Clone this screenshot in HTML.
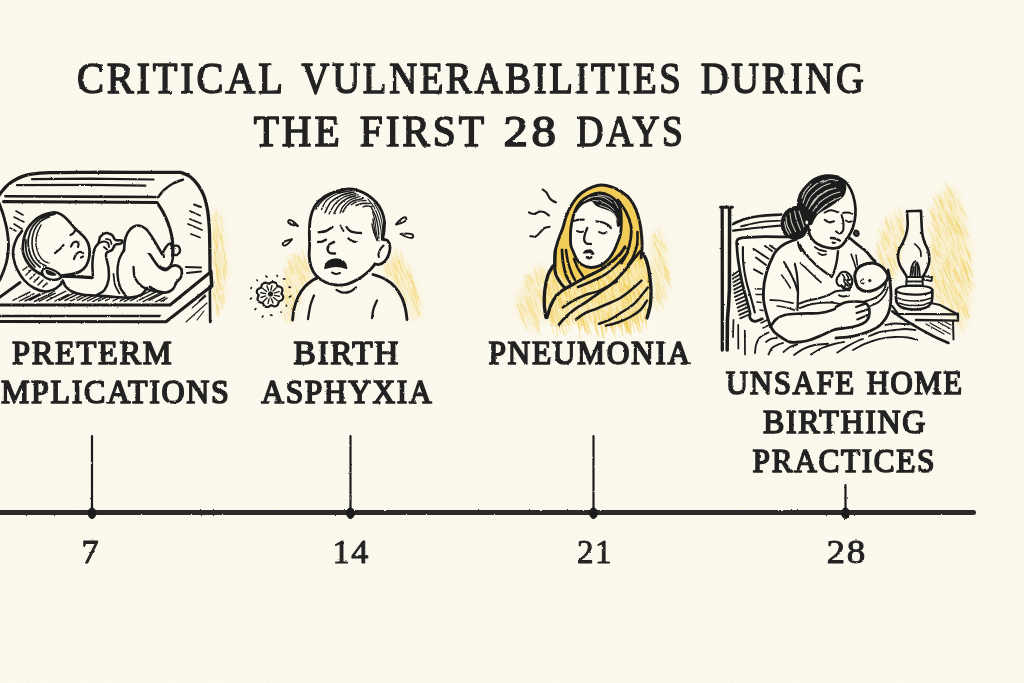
<!DOCTYPE html>
<html lang="en">
<head>
<meta charset="utf-8">
<title>Critical Vulnerabilities During the First 28 Days</title>
<style>
  html, body { margin: 0; padding: 0; background: #fcf9ee; }
  body { width: 1024px; height: 683px; overflow: hidden; position: relative; }
  svg { display: block; position: absolute; left: 0; top: 0; }
  text { font-family: "Liberation Serif", "DejaVu Serif", serif; fill: #232323; stroke: #232323; stroke-linejoin: round; }
  #title text { font-size: 43.6px; letter-spacing: 3px; stroke-width: 1.5px; }
  #labels text { font-size: 33.1px; letter-spacing: 1.7px; stroke-width: 1.65px; }
  #days text { font-size: 32.7px; letter-spacing: 1.5px; stroke-width: 0.9px; }
  .ink { fill: none; stroke: #1d1d1d; stroke-linecap: round; stroke-linejoin: round; }
  .blk { fill: #1d1d1d; stroke: #1d1d1d; }
</style>
</head>
<body>
<svg width="1024" height="683" viewBox="0 0 1024 683">
  <defs>
    <filter id="soft" x="-30%" y="-30%" width="160%" height="160%"><feGaussianBlur stdDeviation="3"/></filter>
    <filter id="rough" filterUnits="userSpaceOnUse" x="-10" y="0" width="1044" height="683"><feTurbulence type="fractalNoise" baseFrequency="0.32" numOctaves="2" seed="4" result="n"/><feDisplacementMap in="SourceGraphic" in2="n" scale="1.9" xChannelSelector="R" yChannelSelector="G"/></filter>
    <filter id="rought" filterUnits="userSpaceOnUse" x="-60" y="0" width="1144" height="683"><feTurbulence type="fractalNoise" baseFrequency="0.22" numOctaves="2" seed="11" result="n"/><feDisplacementMap in="SourceGraphic" in2="n" scale="2" xChannelSelector="R" yChannelSelector="G"/></filter>
    <filter id="grain" filterUnits="userSpaceOnUse" x="0" y="0" width="1024" height="683"><feTurbulence type="fractalNoise" baseFrequency="0.75" numOctaves="2" seed="8"/><feColorMatrix type="matrix" values="0 0 0 0 0.80  0 0 0 0 0.74  0 0 0 0 0.60  0 0 0 0.9 -0.32"/></filter>
    <linearGradient id="fadeDown" x1="0" y1="0" x2="0" y2="1"><stop offset="0" stop-color="#fcf9ee" stop-opacity="0"/><stop offset=".55" stop-color="#fcf9ee" stop-opacity=".45"/><stop offset=".85" stop-color="#fcf9ee" stop-opacity="1"/></linearGradient>

  </defs>
  <rect width="1024" height="683" fill="#fcf9ee"/>
  <rect id="paper" width="1024" height="683" filter="url(#grain)" opacity=".35"/>

  <!-- TITLE -->
  <g id="title" filter="url(#rought)">
    <text transform="translate(77.1 92.9) scale(0.927 1)">CRITICAL</text>
    <text transform="translate(301.6 92.9) scale(0.888 1)">VULNERABILITIES</text>
    <text transform="translate(700.8 92.9) scale(0.884 1)">DURING</text>
    <text transform="translate(253.7 145.9) scale(0.947 1)">THE</text>
    <text transform="translate(359.8 145.9) scale(0.951 1)">FIRST</text>
    <text transform="translate(503.6 145.9) scale(1.123 1)">28</text>
    <text transform="translate(576.6 145.9) scale(0.859 1)">DAYS</text>
  </g>

  <!-- ILLUSTRATION 1: preterm baby in incubator -->
  <g id="illus-incubator" filter="url(#rough)">
    <path fill="#f2cf58" opacity="0.19" filter="url(#soft)" d="M212 214L219 206L224 235L227 262L224 300L217 316L213 300Z"/>
    <path fill="none" stroke="#f2cf58" stroke-linecap="round" stroke-width="0.9" opacity="0.42" d="M214.3 259.8L216.8 272M215.6 226.2L216.2 237.4M224 254.3L225.1 262.5M220.4 294.7L222.7 308.2M222.6 267.5L224.2 274.6M224.1 250.6L225.9 265.4M216.5 286.5L219.4 301.7M213.7 224.4L214.4 235.3M220.5 234L222.3 244.3M216.1 262.9L218.4 277.8M221.4 216.1L222.7 231.8M225 264.2L226.1 273M223.6 265.4L225.3 272.8M212.5 290L214.1 298.2M216.1 286.9L216.7 294.3M222.1 234.5L223.4 250.3M216.1 210.9L217.2 218.1M214.3 246.7L215.6 255M216.3 306.3L217.1 316.6M218 257.1L219.8 269.3M220 268.4L220.8 280M217.3 280.5L219.6 290M226.1 259.8L227.2 266.8M216.4 263.8L220 275.8M220.7 252.2L222.1 262.3M221.5 283.6L223.7 290.8M215 251.3L216.5 261.1M216.2 234.3L218.7 246.4M216.1 243.9L216.9 251.1M219.6 282.5L221.5 291.3M214.3 249.9L215.3 257.8M216.3 237.3L217.3 248.2M216.6 272L217.5 283M214.6 215L216.1 223.6M222.9 293.6L225.3 302.8M223.6 271.6L224.6 281.6M213.5 233.4L214.4 242.8M216.2 246.6L218.2 257.1M218.2 306L218.8 315M222.4 292.3L224 303.8M215.4 239.8L217.2 247.2M220.5 233.9L221.2 241.3M223.5 262.9L227.5 276M213.8 233.2L215.4 244.8M217.5 304.3L218.9 314.3M214.5 293.9L217 307.7M216.1 220.6L218.5 234.8M214.1 286L215.1 300.2M220.1 296.3L222.8 305.4M214.9 258.5L217.1 269.5M211.8 216.3L213.8 223.6M212.2 256.4L214.4 266M216.5 272.1L218.1 282.2M213.3 236.4L216.4 248M221.6 243.7L223.9 252M217.1 267.3L218.1 277.7M223 269.4L225 279.6M218.2 276.8L220.7 289.8M217.8 226.4L220 239.5"/>
    <path class="ink" stroke-width="3.3" d="M-3 199C-2.5 198.1 -1.6 195.9 0 193.8C1.6 191.7 4.2 188.4 6.3 186.3C8.4 184.2 10 182.9 12.5 181.3C15 179.7 18.2 178.1 21.3 176.9C24.4 175.7 26.5 174.9 31.3 174.2C36.1 173.5 40.2 173 50 172.7C59.8 172.4 76.7 172.4 90 172.3C103.3 172.2 114.8 172.3 130 172.3C145.2 172.3 172.5 172.4 181 172.4M181 172.4C182.5 173.1 187.2 174.4 190 176.5C192.8 178.6 195.7 181.8 198 185C200.3 188.2 202.4 191.8 204 196C205.6 200.2 206.6 204.7 207.5 210C208.4 215.3 208.9 221.3 209.3 228C209.7 234.7 209.7 242.8 209.8 250C209.9 257.2 210 267.5 210 271"/>
    <path class="ink" stroke-width="2.2" d="M32 179.2L90 178.6L153.5 179.5"/>
    <path class="ink" stroke-width="2.2" d="M17 185.2L90 184.8L145.5 185.6"/>
    <path class="ink" stroke-width="2.64" d="M5.5 196.2L80 196.6L155.5 197"/>
    <path class="ink" stroke-width="3.08" d="M3.5 201.6L80 202L157 202.5M157 202.5C158 204.1 161.2 208.6 163 212C164.8 215.4 166.6 219.2 168 223C169.4 226.8 170.7 231 171.5 235C172.3 239 172.8 243.5 173 247C173.2 250.5 172.6 254.5 172.5 256"/>
    <path class="ink" stroke-width="2.42" d="M158 197.5C159 196.2 161.5 192.3 164 190C166.5 187.7 169.8 185.2 173 183.5C176.2 181.8 181.3 180.2 183 179.6"/>
    <path class="ink" stroke-width="2.86" d="M-1 203C-0.3 204.8 1.7 209.5 3 214C4.3 218.5 6.1 224.7 7 230C7.9 235.3 8.6 240.7 8.5 246C8.4 251.3 7.6 257.2 6.5 262C5.4 266.8 3.4 271.5 2 275C0.6 278.5 -1.3 281.7 -2 283"/>
    <path class="ink" stroke-width="1.65" d="M16 211L23 215M14 217L24 222M14 224L22 229M10 228L16 231"/>
    <path class="ink" stroke-width="1.87" d="M194 204.5L201 207M190 211L200 215.5M190 219L201 223.5M188 224L202 230M191 234L200 237.5"/>
    <path class="ink" stroke-width="1.98" d="M186 267L201 267.5M187 273L201 271.5"/>
    <path class="ink" stroke-width="2.86" d="M-2 298.5L20 282.5"/>
    <path class="ink" stroke-width="3.08" d="M-2 305L170 305L210 272.5"/>
    <path class="ink" stroke-width="3.52" d="M210.8 271L211.8 286"/>
    <path class="ink" stroke-width="2.42" d="M-2 316L160 316"/>
    <path class="ink" stroke-width="3.08" d="M-2 321.5L166 321.8L211 286.5"/>
    <path class="ink" stroke-width="2.64" d="M209.8 286L210.2 322"/>
    <path class="ink" stroke-width="1.1" d="M186 322L207 303M197 320L204 311M192 308L206 296M199 301L205 295"/>
    <path class="ink" stroke-width="1.43" d="M13 300.4L29.9 292M19.5 301.1L34.1 293.7M25 301L39.6 293.8M29.7 300.3L47.6 291.4M34.4 301.5L52.3 292.6M39.3 301.2L55.3 293.2M46.6 300.8L65.8 291.2M54.1 301.6L68.5 294.4M59.4 300.4L74.7 292.7M64.9 300.5L86.2 289.8M71.1 300.8L90.9 290.9M77.3 300.3L91.8 293M82.4 300.9L102.5 290.8M87.8 300.9L107.1 291.3M93.2 301.3L114.4 290.7M98.5 301L117.6 291.5M105.6 300.7L126.1 290.4M113 300.9L128.1 293.3M119.8 301L135.2 293.3M124.4 301.4L144.4 291.4M130.6 300.7L152.5 289.8M137.2 301.1L156.6 291.5M143.1 301.7L164.6 290.9M149 300.3L169 290.3M155.6 301.8L164.9 297.1M161 301.3L167.1 298.2"/>
    <path class="ink" style="fill:#fcf9ee" stroke-width="2.64" d="M22 231C21.2 232.2 18.4 235.2 17 238C15.6 240.8 14.1 244.7 13.5 248C12.9 251.3 12.9 254.5 13.5 258C14.1 261.5 15.2 265.3 17 269C18.8 272.7 21.2 276.8 24 280C26.8 283.2 30.5 286.1 34 288C37.5 289.9 41.7 291.2 45 291.5C48.3 291.8 51.5 290.6 54 289.5C56.5 288.4 58.5 286.4 60 285C61.5 283.6 62.5 281.7 63 281"/>
    <path class="ink" stroke-width="1.54" d="M23 270L27 267M26 275L31 270M30 279L35 274M34 282L39 277M38 285L43 280M43 287L47 283"/>
    <path fill="#fcf9ee" d="M60 276L93 277L108 262L124 250L150 262L150 288L141 295L130 297.5L97 295.5L82 294.5L72 291.5L63 281Z"/>
    <path class="ink" style="fill:#fcf9ee" stroke-width="2.64" d="M124 250C125 249.4 127.3 247 130 246.5C132.7 246 137 246.1 140 247C143 247.9 145.5 249.5 148 252C150.5 254.5 153 259.3 155 262C157 264.7 158.2 266.7 160 268C161.8 269.3 164 270.3 166 270C168 269.7 170 266.7 172 266C174 265.3 176.4 265.3 178 266C179.6 266.7 181 268.2 181.5 270C182 271.8 181.9 274.8 181 277C180.1 279.2 177.3 281 176 283C174.7 285 174.7 287.4 173 289C171.3 290.6 168.7 292.2 166 292.5C163.3 292.8 159.7 291.9 157 291C154.3 290.1 151.2 287.7 150 287"/>
    <path class="ink" stroke-width="2.42" d="M124 250C123.2 251.7 120.1 256 119 260C117.9 264 117.3 269.5 117.5 274C117.7 278.5 118.6 283.3 120 287C121.4 290.7 125 294.5 126 296"/>
    <path class="ink" stroke-width="1.76" d="M113.5 274C113.8 275.8 114 281.8 115 285C116 288.2 118.8 292.1 119.5 293.5"/>
    <path class="ink" stroke-width="2.42" d="M133.5 267C133.8 268.8 133.6 274.8 135 278C136.4 281.2 139.5 284.5 142 286.5C144.5 288.5 147.3 289.2 150 290C152.7 290.8 156.7 291.2 158 291.5"/>
    <path class="ink" stroke-width="2.64" d="M63 281C63.5 282 64.5 285.2 66 287C67.5 288.8 69.3 290.2 72 291.5C74.7 292.8 77.8 293.8 82 294.5C86.2 295.2 91.5 295.1 97 295.5C102.5 295.9 109.5 296.7 115 297C120.5 297.3 125.7 297.8 130 297.5C134.3 297.2 138.2 296.6 141 295C143.8 293.4 146 289.2 147 288"/>
    <path class="ink" style="fill:#fcf9ee" stroke-width="2.64" d="M124 251C124.2 248.8 124.4 241.7 125.5 238C126.6 234.3 128.4 231.1 130.5 229C132.6 226.9 135.4 225.5 138 225.5C140.6 225.5 143.7 227.1 146 229C148.3 230.9 150 234 152 237C154 240 156.3 244.2 158 247C159.7 249.8 161.3 252.8 162 254"/>
    <path class="ink" stroke-width="2.42" d="M162 254C162.7 252.8 164.7 248.8 166 247C167.3 245.2 168.8 243.7 170 243.5C171.2 243.3 172.5 245.6 173 246"/>
    <path class="ink" stroke-width="2.42" d="M173 246C173.8 246 176.8 245.2 178 246C179.2 246.8 180.2 249.5 180 251C179.8 252.5 178.2 254.4 177 255C175.8 255.6 173.7 254.6 173 254.5"/>
    <path class="ink" stroke-width="2.42" d="M171 244C171.3 245.3 172.8 249 173 252C173.2 255 173 259.2 172 262C171 264.8 169 267.7 167 268.5C165 269.3 161.2 267.2 160 267"/>
    <path class="ink" stroke-width="2.2" d="M163 253L164 257"/>
    <path class="ink" style="fill:#fcf9ee" stroke-width="2.53" d="M93 277C92.9 274.5 92.2 266.7 92.5 262C92.8 257.3 93.5 252.2 94.5 249C95.5 245.8 97.5 245.1 98.5 243C99.5 240.9 99.2 238.2 100.5 236.5C101.8 234.8 104.1 233.2 106 233C107.9 232.8 110.4 233.8 112 235C113.6 236.2 113.8 239.1 115.5 240C117.2 240.9 121.1 239.9 122 240.5C122.9 241.1 122.2 242.8 121 243.5C119.8 244.2 116.5 243.9 115 245C113.5 246.1 113.3 248.8 112 250C110.7 251.2 108 251.5 107 252.5C106 253.5 105.8 253.4 106 256C106.2 258.6 108.1 264 108.5 268C108.9 272 109.2 276.3 108.5 280C107.8 283.7 106.4 287.5 104.5 290C102.6 292.5 98.2 294.2 97 295"/>
    <path class="ink" stroke-width="1.98" d="M99 243C99.8 242.8 102.5 241.5 104 241.5C105.5 241.5 107.2 242.1 108 243C108.8 243.9 108.8 246.3 109 247"/>
    <path class="ink" stroke-width="1.76" d="M106 239C106.7 239.2 109.1 239.2 110 240C110.9 240.8 111.2 243.3 111.5 244"/>
    <path class="ink" stroke-width="1.98" d="M104 247L107 249.5"/>
    <path class="ink" stroke-width="3.08" d="M60 276.2L76 276.6L92 277.6"/>
    <path class="ink" style="fill:#fcf9ee" stroke-width="2.75" d="M43 275C42 274.5 39 273.3 37 272C35 270.7 32.8 269 31 267C29.2 265 27.3 262.5 26 260C24.7 257.5 23.5 254.5 23 252C22.5 249.5 22.8 247.7 23 245C23.2 242.3 23.7 238.8 24.5 236C25.3 233.2 26.4 230.5 28 228C29.6 225.5 31.7 223.1 34 221C36.3 218.9 39 216.9 42 215.5C45 214.1 49.3 212.9 52 212.5C54.7 212.1 56 212.3 58 213C60 213.7 62 214.9 64 216.5C66 218.1 68.2 220.5 70 222.5C71.8 224.5 73.3 226.8 75 228.5C76.7 230.2 78.3 231.4 80 233C81.7 234.6 83.7 236.3 85 238C86.3 239.7 87.2 241 88 243C88.8 245 89.3 247.5 89.5 250C89.7 252.5 89.6 255.3 89 258C88.4 260.7 87.5 263.8 86 266C84.5 268.2 82.3 270.2 80 271.5C77.7 272.8 75 273.3 72 274C69 274.7 64.3 275.2 62 275.5C59.7 275.8 58.7 275.9 58 276"/>
    <path class="ink" stroke-width="1.87" d="M54 214C52 214.7 45.5 216 42 218C38.5 220 35.2 222.7 33 226C30.8 229.3 29.2 234 28.5 238C27.8 242 28.2 246.3 29 250C29.8 253.7 31.2 257.2 33 260C34.8 262.8 38.8 265.8 40 267"/>
    <path class="ink" stroke-width="1.65" d="M50 216.5C48.3 217.4 42.7 219.6 40 222C37.3 224.4 35.3 227.5 34 231C32.7 234.5 32 239.2 32 243C32 246.8 32.8 250.8 34 254C35.2 257.2 37 260 39 262C41 264 44.8 265.3 46 266"/>
    <path class="ink" stroke-width="1.43" d="M41 225C40.3 226.5 37.8 230.7 37 234C36.2 237.3 35.7 241.5 36 245C36.3 248.5 37.7 252.3 39 255C40.3 257.7 42.3 259.7 44 261C45.7 262.3 48.2 262.7 49 263"/>
    <path class="ink" stroke-width="1.76" d="M26 240C26 241.7 25.5 246.8 26 250C26.5 253.2 27.5 256.2 29 259C30.5 261.8 34 265.7 35 267"/>
    <path class="ink" stroke-width="1.98" d="M36 219C37.3 218.5 40.8 216.8 44 216C47.2 215.2 53.2 214.3 55 214"/>
    <path class="ink" style="fill:#fcf9ee" stroke-width="2.42" d="M42 271C41.7 272.4 42.7 275.1 44 276.5C45.3 277.9 47.8 279 50 279.5C52.2 280 55.2 279.9 57 279.5C58.8 279.1 60.8 278.1 61 277C61.2 275.9 59.5 274.2 58 273C56.5 271.8 54 270.3 52 269.5C50 268.7 47.7 267.8 46 268C44.3 268.2 42.3 269.6 42 271Z"/>
    <path class="ink blk" stroke-width="1.54" d="M46.5 270.5C47.1 270.2 49.5 271.3 51 272C52.5 272.7 55.3 274 55.5 274.5C55.7 275 53.3 275.2 52 275C50.7 274.8 48.4 274.2 47.5 273.5C46.6 272.8 45.9 270.8 46.5 270.5Z"/>
    <path class="ink" stroke-width="2.2" d="M70.5 235C70.9 234.8 72.2 234.3 73 233.5C73.8 232.7 75.1 230.6 75.5 230"/>
    <path class="ink" stroke-width="2.2" d="M55 253C55.8 252.4 58.1 250.8 59.5 249.5C60.9 248.2 62.8 245.8 63.5 245"/>
    <path class="ink" stroke-width="2.2" d="M71 246.5C71.3 245.9 72.2 243.8 73 243C73.8 242.2 75.1 241.5 76 241.6C76.9 241.7 78.2 242.6 78.5 243.5C78.8 244.4 78.1 246.4 78 247"/>
    <path class="ink" stroke-width="2.2" d="M74 259C74.3 258.2 75 255.7 76 254.5C77 253.3 78.8 252.1 80 251.8C81.2 251.6 82.5 252.8 83 253"/>
    <path class="ink" stroke-width="2.2" d="M81 257.5L83 256.5"/>
  </g>

  <!-- ILLUSTRATION 2: crying baby (birth asphyxia) -->
  <g id="illus-asphyxia" filter="url(#rough)">
    <path fill="#f2cf58" opacity="0.19" filter="url(#soft)" d="M288 262L300 254L310 258L313 278L302 290L296 306L292 322L284 318L284 290Z"/>
    <path fill="none" stroke="#f2cf58" stroke-linecap="round" stroke-width="0.9" opacity="0.42" d="M295.6 286.7L298.7 297.4M296.1 288.7L301.3 299.1M283.4 268.3L290.1 281M302 249.3L306.2 264.4M297.3 253.9L301.4 262.2M282 278.8L287.7 292.3M296.6 291.5L301.5 303.5M295.2 265.2L299.3 280.6M291.5 266.2L294.8 273.1M304.7 276.2L307.8 286.2M284.7 292.3L287.6 301.3M284.7 270L288.4 283.3M285.7 267.4L289.2 274.1M305.1 260.9L309.1 271.2M286.6 298.1L292.5 309.5M285.3 278.4L289.4 286.8M290.5 309.4L295.1 318.9M288.6 266.8L291.7 276.3M289.7 253.6L295.4 264.4M288.8 289.8L293.3 300M287.3 257.6L291.3 271.4M288.8 259.6L293.7 274.2M287.9 312.7L291.5 324.6M292.5 254.2L300 267.9M287.8 295.4L294 308.4M298.3 267.9L304.3 280M300.6 268.8L303 277.3M294.6 253.5L299.2 262.7M297.5 256.1L303.6 269.8M281.9 308.5L287.1 323.3M282 291L287.2 303.5M283.8 284L288.6 298.3M292.1 293.5L296.3 307.7M299.9 274.2L304.3 285.8M284.4 290.3L288.3 304.7M303.2 274.6L307.1 286.2M283.5 299.6L289.4 310.5M296.1 264.2L299.8 275.1M290.9 296.3L294.6 303.9M291.1 294.4L295.9 304.2M307.8 275.5L311.3 284.7M285.8 280.8L290.1 294.7M290.2 261.1L293.9 269.9M288.2 276.8L292.2 287.5M291.7 305.7L294.6 316.4M291 304.2L294.9 311.4M306.4 266.8L309.7 273.4M300 278.3L304.5 290.4M302.2 263.6L305.5 271.5M302.6 261.6L306.9 270.8"/>
    <path fill="#f2cf58" opacity="0.19" filter="url(#soft)" d="M381 266L398 252L410 268L419 295L422 318L410 321L405 300L396 284L386 277Z"/>
    <path fill="none" stroke="#f2cf58" stroke-linecap="round" stroke-width="0.9" opacity="0.42" d="M407 287.5L411.7 299.5M393.8 276.5L395.9 283.3M399.8 250.8L403.9 265.8M385.1 269.6L388 277.5M395.4 275.6L399.4 286.2M394.2 246.7L399.3 261.5M393.4 270.9L397.8 283.2M383.3 262.9L388 273.5M410.8 280.2L417.7 292.8M396.3 282.9L401 292.7M386.6 264.2L392.5 278.7M393.5 257.8L398.3 272.3M412.6 290.8L417.7 301.4M390.5 263.3L394.9 275.8M395.2 261.4L401.3 275.9M401.8 287.6L406.1 302.6M409.5 273.8L414.9 287.9M411.2 287.3L415.5 296.7M407.9 285L414.4 296.7M415.9 299.8L420.2 314.3M394.6 254.3L398.6 263.3M417 293.7L421.6 305.4M407.4 274.4L412 284M410.7 292.6L413.6 302.4M397.5 259.6L400.9 269.1M389.8 271.2L391.7 278M393.4 266.4L398.2 276.2M413.5 304.1L418.6 314.7M410 273.2L414.4 285.4M407.3 271.5L410.5 280.9M399.8 273.2L403.2 280.6M413.9 288.9L417.2 299.1M404.3 265.4L408.4 274.9M395.5 275.5L398.1 283.6M387.9 263.9L391 275.2M414 302.4L419.6 314.9M391.4 254.5L395.6 268.4M391 260.7L395.3 269.5M413.3 288L419.4 299.7M400.6 277L405.4 288.9M411.9 281.6L415.8 292.1M404.7 273.5L409.3 284.2M408.7 265.7L411.9 276.7M414.3 293.3L417.8 306M396.1 273.5L400.9 286.5M398.8 261.1L402.2 271.4M401.6 270.3L404.9 277.3M403.4 294.2L407.8 302.1M412.7 299.5L417 309M398.8 259.9L402.9 271M393.3 262.2L398.3 273.6"/>
    <path class="ink" stroke-width="2.86" d="M292.5 320C292.8 318.2 293.1 312.8 294 309C294.9 305.2 296.2 300.8 298 297C299.8 293.2 302.5 289.3 305 286.5C307.5 283.7 310.7 281.5 313 280C315.3 278.5 318 277.9 319 277.5"/>
    <path class="ink" stroke-width="2.86" d="M373 274.5C375 275.2 381.3 276.9 385 279C388.7 281.1 392.2 283.8 395 287C397.8 290.2 400.2 294.3 402 298C403.8 301.7 404.7 305.4 405.5 309C406.3 312.6 406.8 317.8 407 319.5"/>
    <path class="ink" stroke-width="2.31" d="M314 295.5C313.4 297.1 311.5 301.1 310.5 305C309.5 308.9 308.4 316.7 308 319"/>
    <path class="ink" stroke-width="2.31" d="M377 300.5C376.4 301.9 374.3 306.1 373.5 309C372.7 311.9 372.2 316.5 372 318"/>
    <path class="ink" stroke-width="2.31" d="M336.5 290C337.6 290.4 340.8 292.3 343 292.6C345.2 292.9 347.8 292.5 350 291.6C352.2 290.8 355 288.2 356 287.5"/>
    <path class="ink" style="fill:#fcf9ee" stroke-width="2.86" d="M375 264C374.2 265 372.5 267.7 370 270C367.5 272.3 363.7 275.7 360 278C356.3 280.3 352 282.6 348 283.8C344 285 339.8 285.3 336 285C332.2 284.7 328.3 283.6 325 282C321.7 280.4 318.3 278.1 316 275.5C313.7 272.9 312.1 269.8 311 266.5C309.9 263.2 309.4 259.6 309.2 256C309 252.4 309.6 249.3 309.6 245C309.6 240.7 309.2 234.6 309.4 230C309.6 225.4 309.6 221.7 310.6 217.5C311.6 213.3 313.2 208.5 315.6 205C318 201.5 321.6 198.6 325 196.3C328.4 194 332.3 192.5 336.3 191.3C340.3 190.1 345.4 189.1 348.8 188.9C352.2 188.7 353.9 189.2 357 190.2C360.1 191.2 364.3 192.9 367.5 195C370.7 197.1 373.9 199.8 376.3 202.5C378.7 205.2 380.5 208.3 381.9 211.5C383.2 214.7 384.1 218 384.4 221.5C384.7 225 384.1 229.6 383.8 232.5C383.5 235.4 382.7 237.9 382.5 239"/>
    <path class="ink" style="fill:#fcf9ee" stroke-width="2.75" d="M382.5 239.5C383.3 239.7 386.2 239.2 387.5 240.5C388.8 241.8 389.8 244.6 390 247C390.2 249.4 389.4 252.6 388.5 255C387.6 257.4 386.1 259.9 384.5 261.5C382.9 263.1 380.6 264.1 379 264.5C377.4 264.9 375.7 264.1 375 264"/>
    <path class="ink" stroke-width="2.09" d="M383.5 245.5C383 246.1 381.3 247.6 380.5 249C379.7 250.4 378.8 252.7 378.5 254C378.2 255.3 378.9 256.5 379 257"/>
    <path class="ink" stroke-width="1.32" d="M352 190.5C349.7 191 342.2 191.9 338 193.5C333.8 195.1 329.8 197.3 327 200C324.2 202.7 322.4 207.9 321.5 209.5"/>
    <path class="ink" stroke-width="1.65" d="M354 192C351.8 192.6 344.8 193.8 341 195.5C337.2 197.2 333.7 199.2 331 202C328.3 204.8 326 210.8 325 212.5"/>
    <path class="ink" stroke-width="1.32" d="M356 193.5C354 194.1 347.5 195.2 344 197C340.5 198.8 337.5 201.2 335 204C332.5 206.8 330 212.3 329 214"/>
    <path class="ink" stroke-width="1.65" d="M358 195C356.2 195.6 350.2 196.8 347 198.5C343.8 200.2 341.2 202.5 339 205C336.8 207.5 334.8 212.1 334 213.5"/>
    <path class="ink" stroke-width="1.32" d="M360 196.5C358.3 197.1 352.8 198.3 350 200C347.2 201.7 344.7 204.3 343 206.5C341.3 208.7 340.5 211.9 340 213"/>
    <path class="ink" stroke-width="1.65" d="M363 198.5C361.2 199 354.8 200.1 352 201.5C349.2 202.9 347.5 205.2 346 207C344.5 208.8 343.5 211.2 343 212"/>
    <path class="ink" stroke-width="1.32" d="M366 200.5C364.5 200.7 359.5 200.8 357 201.5C354.5 202.2 352 204.4 351 205"/>
    <path class="ink" stroke-width="1.65" d="M370 203.5C368.7 203.5 364.3 203.2 362 203.5C359.7 203.8 357 205.2 356 205.5"/>
    <path class="ink" stroke-width="1.32" d="M372 206.5C371 206.4 367.5 205.9 366 206C364.5 206.1 363.5 206.8 363 207"/>
    <path class="ink" stroke-width="1.65" d="M345 190C342.8 190.7 335.8 192.2 332 194C328.2 195.8 324.7 198.5 322 201C319.3 203.5 317 207.7 316 209"/>
    <path class="ink" stroke-width="1.1" d="M368 199C369 200.3 372.2 203.8 374 207C375.8 210.2 377.3 214.2 378.5 218C379.7 221.8 380.5 226.5 381 230C381.5 233.5 381.4 237.5 381.5 239"/>
    <path class="ink" stroke-width="1.43" d="M371 207C371.8 208.5 374.3 212.7 375.5 216C376.7 219.3 377.4 223.3 378 227C378.6 230.7 378.8 236.2 379 238"/>
    <path class="ink" stroke-width="1.1" d="M372.5 212C372.9 213.5 374.4 218 375 221C375.6 224 375.5 226.7 376 230C376.5 233.3 377.7 239.2 378 241"/>
    <path class="ink" stroke-width="1.43" d="M373 219C373.2 220.3 373.5 224.2 374 227C374.5 229.8 375.7 234.5 376 236"/>
    <path class="ink" stroke-width="1.1" d="M374 203C374.8 204.5 377.7 208.7 379 212C380.3 215.3 381.4 219.3 382 223C382.6 226.7 382.7 232.2 382.8 234"/>
    <path class="ink" stroke-width="1.43" d="M372 224C372.2 225.2 372.7 228.2 373.5 231C374.3 233.8 376.4 238.9 377 240.5"/>
    <path class="ink" stroke-width="2.42" d="M318.8 232.3C320 232.1 323.7 231.9 326 231C328.3 230.1 331.4 227.6 332.5 226.9"/>
    <path class="ink" stroke-width="2.31" d="M318 242C318.7 241.9 320.7 242 322 241.6C323.3 241.2 325.3 239.9 326 239.6"/>
    <path class="ink" stroke-width="2.42" d="M346.5 227C347.2 227.7 348.9 230.4 350.5 231.3C352.1 232.2 354.2 232.3 356 232.6C357.8 232.9 360.2 232.9 361 233"/>
    <path class="ink" stroke-width="2.31" d="M348.5 238.5C349.1 238.9 350.8 240.4 352 241C353.2 241.6 355.3 241.8 356 242"/>
    <path class="ink" stroke-width="1.87" d="M340.5 225.5C340.8 226 341.5 227.6 342 228.5C342.5 229.4 343.2 230.6 343.5 231"/>
    <path class="ink" stroke-width="2.53" d="M334 242C333.2 242.4 330.6 243.2 329.5 244.5C328.4 245.8 327.5 248.1 327.6 249.5C327.7 250.9 328.8 252.3 330 253C331.2 253.7 334.2 253.5 335 253.6"/>
    <path class="blk" stroke-width="1.6" stroke-linejoin="round" d="M325 268.3C325.5 262.5 330 259 336 259C342 259 346 262.5 346.6 268.3C343 267 339.5 266.2 336 266.2C332 266.2 328.5 267.3 325 268.3Z"/>
    <path class="ink" stroke-width="2.09" d="M332 272.6C332.7 272.8 334.7 273.9 336 274C337.3 274.1 339.3 273.2 340 273"/>
    <path class="ink" stroke-width="1.98" d="M298 226Q289.1 224.6 288.2 222.1Q287.9 220.6 289.3 220Q291.9 219.4 298 226Z"/>
    <path class="ink" stroke-width="1.98" d="M292 239.3Q286.5 246.1 283.9 245.6Q282.4 245 282.7 243.5Q283.5 240.9 292 239.3Z"/>
    <path class="ink" stroke-width="1.98" d="M396 224.5Q402.3 216.8 405.1 217.3Q406.7 217.8 406.4 219.5Q405.7 222.2 396 224.5Z"/>
    <path class="ink" stroke-width="1.98" d="M400.5 234Q411.1 232.8 412.9 235.1Q413.7 236.6 412.4 237.7Q409.9 239.2 400.5 234Z"/>
    <path class="ink" style="fill:#fcf9ee" stroke-width="2.2" d="M282.2 294.5L282.8 295.6L283.2 296.7L283.2 297.8L282.8 298.9L282 299.8L281 300.5L279.8 301L278.7 301.4L278.6 302.6L278.3 303.8L277.7 304.9L276.8 305.7L275.8 306.1L274.5 306.3L273.3 306.1L272.1 305.6L271 305.2L270 306L268.9 306.6L267.7 307L266.5 306.9L265.3 306.6L264.4 305.9L263.6 304.9L263.1 303.7L262.7 302.7L261.4 302.6L260.1 302.3L259 301.8L258.2 300.9L257.7 299.9L257.5 298.8L257.7 297.6L258.2 296.5L258.7 295.4L257.8 294.5L257.2 293.4L256.8 292.3L256.8 291.2L257.2 290.1L258 289.2L259 288.5L260.2 288L261.3 287.6L261.4 286.4L261.7 285.2L262.3 284.1L263.2 283.3L264.2 282.9L265.5 282.7L266.7 282.9L267.9 283.4L269 283.8L270 283L271.1 282.4L272.3 282L273.5 282.1L274.7 282.4L275.6 283.1L276.4 284.1L276.9 285.3L277.3 286.3L278.6 286.4L279.9 286.7L281 287.2L281.8 288.1L282.3 289.1L282.5 290.2L282.3 291.4L281.8 292.5L281.3 293.6Z"/>
    <path class="ink" stroke-width="1.43" d="M274.4 295.4L279.3 296.3M273.4 297.5L277.1 300.5M271.4 298.8L273 303M269.1 298.9L268.1 303.3M267 297.9L263.7 301.2M265.7 295.9L261 297.4M265.6 293.6L260.7 292.7M266.6 291.5L262.9 288.5M268.6 290.2L267 286M270.9 290.1L271.9 285.7M273 291.1L276.3 287.8M274.3 293.1L279 291.6"/>
    <circle class="blk" stroke="none" cx="270.5" cy="294.0" r="2.2"/>
    <path class="ink" stroke-width="1.65" d="M257 280L257.4 280.6M266 276L266.9 277.1M277 275.5L277.7 276.5M285 279L283.6 278.9M289 287L290.3 287.4M289.5 297L290.7 296.1M286.5 306L286.4 305.4M281 312L281.1 312.2M272 315.5L270.5 314.8M263 316L262.3 317M255 309.5L255.8 308.7M250.5 299L251.4 298.1M251 288.5L251.4 287.6"/>
  </g>

  <!-- ILLUSTRATION 3: woman in shawl (pneumonia) -->
  <g id="illus-pneumonia" filter="url(#rough)">
    <path fill="#f2cf58" opacity="0.19" filter="url(#soft)" d="M514 302L526 280L540 264L548 270L545 300L548 322L540 330L524 326Z"/>
    <path fill="none" stroke="#f2cf58" stroke-linecap="round" stroke-width="0.9" opacity="0.42" d="M517.7 304.2L521.6 314.8M519.6 310.8L523.1 321.8M528.7 275.1L533.7 284.1M539.4 276L542.6 282.7M541.4 300.3L546.1 309M527.1 295.3L531.7 305.6M542.1 275.3L544.8 283.7M544.7 316.4L549.1 329.6M531.2 307.1L536.3 317.2M540 270.1L544.2 284.5M525.9 283.3L529.9 292.9M536.3 324.2L540.6 334.8M530 307.8L535.4 319M531 301.3L534.8 308.9M523.3 319.5L528.4 330.8M538.2 282.6L542.6 294.9M542.2 292.2L545.9 300.6M540.4 268.4L547.1 281M539.2 292.3L541.4 299.5M536 288.6L542.7 302.7M529.7 308.2L534 316M540.7 310.5L544.3 322.4M527 297.7L529.9 307M531.1 278.8L533.3 285.6M534.3 321.5L540.3 332.4M534.2 315.9L537.5 324.6M543 269.3L546.6 276.3M534.5 267.7L538.1 277M528.8 274.6L532.7 282.4M525.5 307.4L528.2 314.3M536 315L540.4 328.4M517.1 305L522.8 316.9M525.9 279.8L528.6 289.1M530 296.5L532.2 304.1M531.9 290.1L537 305M522.3 304.6L526.8 315.8M538.6 290.2L541.1 296.9M534 288.3L537.9 298.1M525.1 274.1L530.2 283.7M520.4 304L524.4 316.9M527.2 274.4L531.8 284.8M532.8 322.6L538.1 332.6M528.7 304.6L532.7 318.1M532.8 307.1L537.8 321M534.5 302.2L541.1 316M524.8 297.1L529.5 312M523 280.8L526.3 288.4M535.6 287.6L542.8 301.4M535.3 271.8L540.6 283.4M535.8 276.5L538.5 286M519.7 313.9L525.6 325.7M518.6 298.8L523 308.2M527 300.8L530.7 308.6M523.6 275L530.6 289M543 305.5L548.5 315.6"/>
    <path fill="#f2cf58" opacity="0.19" filter="url(#soft)" d="M650 240L659 230L666 245L669 275L666 298L659 308L651 305L652 275Z"/>
    <path fill="none" stroke="#f2cf58" stroke-linecap="round" stroke-width="0.9" opacity="0.42" d="M651.8 234.7L655.2 244.2M658.9 295.5L664 309.9M664.9 272L668.6 279.9M664.2 268.7L668.1 282.2M666.2 268.3L670.3 280.1M652 298.2L657.8 311M664.9 274.3L671.4 287.2M659.9 239.2L665.5 249.6M657.1 264.4L662.2 276.3M654.5 269.8L659.7 281.1M658.4 258.3L662.3 269.3M653.7 256.6L659.8 270.7M666.5 266.3L669.7 273.5M658.3 252.6L662.5 261.9M658.7 287.9L661.7 296.2M656.3 289.2L659.4 299.9M663.8 263.2L668.3 274.6M657.2 281.9L660.7 291.5M662.2 286.7L667.6 301.2M659.1 250.7L665 262.5M654.5 244.1L662 257.9M654.7 235L658.7 243.4M653.6 233.5L656.9 241.7M654.5 280.4L658.5 294.3M651.1 261.9L656.6 274.5M661.7 262.1L665.6 270.3M653.6 231.1L656.5 239.1M664.2 275.3L669.6 285.4M658.1 229L660.4 235.7M664.6 244.4L667.6 252M655.4 294L657.6 300.8M654 273.6L660.4 286.3M664 266.3L669.9 279.7M658 240.9L661.5 248.5M663.6 263L668.3 276.5M656.1 293.2L659.4 303.2M660.8 241.9L664.1 248.5M654.3 241.1L660.1 255.7M651.1 267.6L654.7 279.4M656.3 283.1L663.7 296.7"/>
    <path fill="#f5d566" d="M555 266C556.2 262.2 554.7 256.2 555.2 252C555.7 247.8 556.7 245 558 241C559.3 237 561.3 232.2 562.8 228C564.2 223.8 564.8 219.7 566.5 215.5C568.2 211.3 570.2 206.8 572.8 203C575.2 199.2 578.2 195.7 581.5 193C584.8 190.3 589.4 188.1 592.8 186.8C596.1 185.5 598.4 185 601.5 185C604.6 185 608.2 185.7 611.5 186.8C614.8 187.9 618.4 189.7 621.5 191.8C624.6 193.9 627.9 196.4 630.2 199.3C632.6 202.2 634.3 205.6 635.9 209.3C637.5 213.1 638.7 217.6 639.6 221.8C640.5 226 641.1 230.1 641.5 234.3C641.9 238.5 642.2 242.9 642.1 246.8C642 250.8 640.8 256.8 641 258C641.2 259.2 642.5 253.2 643.5 254C644.5 254.8 646 259.5 647 263C648 266.5 648.9 270.5 649.6 275C650.3 279.5 650.9 285 651 290C651.1 295 651.3 300 650.5 305C649.7 310 650.2 316.5 646 320C641.8 323.5 632.7 324.7 625 326C617.3 327.3 608.3 327.8 600 328C591.7 328.2 582.3 327.7 575 327C567.7 326.3 560.8 325.5 556 324C551.2 322.5 547.9 321.2 546 318C544.1 314.8 544.7 309.7 544.5 305C544.3 300.3 544.2 295 544.8 290C545.4 285 546.3 279 548 275C549.7 271 553.8 269.8 555 266Z"/>
    <path fill="#efc64f" opacity=".55" d="M555 266C554.9 262.7 554.7 256.2 555.2 252C555.7 247.8 556.7 245 558 241C559.3 237 561.3 232.2 562.8 228C564.2 223.8 564.8 219.7 566.5 215.5C568.2 211.3 570.2 206.8 572.8 203C575.2 199.2 578.2 195.7 581.5 193C584.8 190.3 589.4 188.1 592.8 186.8C596.1 185.5 598.4 185 601.5 185C604.6 185 608.2 185.7 611.5 186.8C614.8 187.9 618.4 189.7 621.5 191.8C624.6 193.9 627.9 196.4 630.2 199.3C632.6 202.2 634.3 205.6 635.9 209.3C637.5 213.1 638.7 217.6 639.6 221.8C640.5 226 641.1 230.1 641.5 234.3C641.9 238.5 642.2 242.9 642.1 246.8C642 250.8 643 255.5 641 258C639 260.5 636.8 259.7 630 262C623.2 264.3 610 269 600 272C590 275 577.3 280 570 280C562.7 280 558.5 274.3 556 272C553.5 269.7 555.1 269.3 555 266Z"/>
    <path fill="none" stroke="#fcf6dc" stroke-width="1.1" stroke-linecap="round" opacity=".62" d="M585.2 305.8L587.5 311.2M567.1 308.5L571.3 318.6M613.9 267.1L616.2 275.4M643.2 285.8L646 293M582.1 323.8L584.6 330.1M606 293.4L607.6 305M546.9 306.9L548.6 317M567.1 313L568.4 319.4M611.2 273.4L614.3 280.4M578.8 283.3L581.5 294.6M610.3 296.3L611.6 301.9M563.7 319.5L566.3 329.7M553.9 284.1L555.5 294.2M591.3 311L594.6 321.8M555.5 270.1L558.9 280.3M633.9 288.9L637 299.8M572.9 282.4L575.3 292.2M557.8 305.1L560.6 317.5M625 273L627.5 285.6M583.5 278.7L585.5 283.7M555.8 316.3L559.8 325.4M630.3 278.3L633.5 286.3M617.8 293.6L619.2 301.7M598.8 305.6L601.9 315.9M556.4 309.1L558.9 321.4M615.8 295.9L620.2 306.9M555.6 287.2L558.7 294.6M576.2 286.4L578.2 295.5M569.2 309.3L571.5 320.6M547.5 300.3L548.6 307.3M564.7 313.4L567.3 321.2M630.4 285L632.8 291.2M579.5 304.2L583.1 314.8M550.5 274.6L552.6 283.2M596.6 322.6L598.8 328.6M546.6 290.7L549.6 298.9M582.9 307.7L587 319.3M605.6 286.1L606.9 292.8M608 315.9L609.9 323.2M553.3 297.3L556.2 304.8M601.2 321.5L603.3 330.5M634.3 278L637.5 287.9M601.8 271.5L605.3 282.6M567.7 304.2L572.9 315.8M616.6 278.4L618.1 289.7M549.3 272.6L552.9 285.1M587.1 295.7L588.9 301.5M545.7 312.4L548.3 320.8M594.5 302.9L596.3 314.4M620.9 282.4L623 287.7M634.4 259.9L637.6 271.8M576.9 282.5L580.7 294.4M615.1 314.1L619.6 324M591.6 283.9L593.5 294.7M640.8 308.1L642.1 316.4M602.8 312.4L604.6 318.3M606.4 318.3L607.3 324.2M579.7 323.7L581.9 330.8M572.7 288.2L574.4 295.7M570.1 318.5L574.2 328.7M554.1 310.2L558 320.7M553.4 312.1L555.7 320.7M581.2 306.4L582.8 311.6M607.7 278.7L609.3 288M625.9 265.3L628 275M633.9 317.4L636.4 326.8M624.7 274.5L627.7 285.4M606.7 292.6L608.9 305.2M609.3 267.7L610.4 276.5M600.9 314.6L601.9 320.6M636 280.4L639.8 292M630.8 279.9L633.6 289.8M634.7 267.7L637 278.3M606.6 279.9L608.4 291.1M611.2 279L613.4 284.4M629.9 316.6L631.9 322.7M551.4 287.6L553.2 292.7M574.5 314.1L577.9 321.6M635.7 306.2L636.9 313.7M569.6 315.1L572.6 327.2M581.5 284.2L584 296M560.2 275.6L564.1 284.2M640.9 295.7L644.9 305.5M612.9 264.1L614.5 274.2M595.1 281.3L598.4 289.4M612.5 300.7L614.2 313.3M592.8 306.7L595.4 314.7M603.1 324.8L606.7 332.7M579.7 312.4L580.9 321.1M551.7 297.4L554.3 307.5M625.8 288.1L628.7 298.9M546 272.1L548.8 284.6M644.5 277.6L645.4 284.7M607.3 282.5L610.1 294.8M557.2 303.2L559 310.2M616.1 298.9L620.9 310.1M585.9 289.5L588.1 297.8M644.8 288.3L647.3 299.2M641.8 267.6L645.9 279.5M608.6 284.4L609.5 290.3M614.5 291.1L617.3 299.1M570.7 306.3L572.3 314.2M636.2 262L637.8 268.1M555.9 297.4L558.1 302.5M558.1 284L559.4 291.2M556.4 307.8L558.7 320.6M547.8 267L551.6 279.4M600.4 318L603.6 326.2M616.1 271.8L619.2 283M630.2 303L632.5 315.8M608 276.4L609.9 281.5M640.9 295L643.8 306.7M617.4 285.9L618.8 291.4M570.5 280.3L572.4 290.4M607.5 285L610.1 292.7M549 280.8L550.7 292.2M570.4 292.7L571.7 299.1M580.2 296.2L584.7 307.6M613.7 283.4L617.8 294.6M619.3 273.6L621.2 279M609.7 285.8L613.2 295.8M628.4 317.6L630.1 327M619.4 317.3L622.4 324.1M580.6 306.6L584.2 317.1M570.5 321.7L573.3 331M610.6 314.6L612.3 321.1M589.1 294.9L593.8 305.6M575.3 318.6L579.2 330.6M620.9 286.3L621.9 291.2M552.2 297.8L554.9 305.5M618.3 288.9L620.9 299.5M632.5 263.8L634.4 274.6M593.9 274.8L598.6 286.7M602.1 274.1L603.3 282.3M648.2 293.7L650.5 299.8M544.5 312.3L548 322.5M632.7 284.2L635.6 294.5M611.6 283.3L614.3 290.1M545.4 299.8L548 310.6M589.8 306L592.8 317.5M602.3 304.5L603.9 311M551.7 313.3L553.7 322.2M640.9 270L642.7 278.8M554.4 267.8L557.1 273.7M625.4 290.4L629.1 298.6M575.5 291.6L577.6 298.1M593.9 320.1L595.9 330.1M572.6 321.9L574 330.7M557.1 292L560.7 304.5M569.7 306L571.6 315.6M572.7 318.1L576.8 329.2M637.7 294.9L640.6 301.4M550 270.1L553.1 279.2M629.6 262.3L630.8 268.1M582 322.4L582.9 327.7M584.2 320.1L587.4 328.2M624.5 299.8L626.9 305.4M608 298L613.4 309.6M583.1 274.3L586 286.3M580 292.7L583.5 300.7M581.3 316.8L582.2 324.2M634.8 275L636.4 287.1M646.7 284.5L649.1 294.9M614.1 310.7L616.9 322.5M645.7 301.2L648.6 309.8M647 286.2L650.5 297.8M628 260.6L630.8 269.4M568.3 308.3L571.2 319.7M557.3 270.4L560.4 279.1M570.7 294.3L572.5 299.6M631.8 294.3L633.2 303.4M634.3 297.4L637.8 309.5M581.4 322.4L584.5 334.6M552.5 293.2L556.4 304.1M640.6 317.8L642.4 323.1M647.4 271.3L649.1 280.8M621 306.3L623.8 313.9M584 303.5L586.9 316.1M600.1 281.9L603.4 289.7M606.6 305.8L609.3 311.8M611.8 312.4L612.7 318.4M620.7 287.4L623.3 297.6M587.5 300.7L588.2 305.8M636.6 273L638.9 285.1M585.9 293.3L590.3 305.5M563.4 303.3L565 316M634.4 285.6L636 297.4M588.1 283.9L590.5 291.1M604.9 287.8L605.6 292.8M608.1 284.8L609.7 297.7M618.9 306.6L622.2 316.6M569.6 314.1L571.3 320.7M565.3 283.6L568.6 293.3M578.4 286.7L580 299M608.8 324.5L611.4 330.7M559 275L562.2 283.8M637.5 281.9L640.4 290.2M645.1 292.7L646 300.1M602.1 299.1L604.5 310.5M555 270.9L559.4 281.2M594.7 290.4L599.5 300.8M648.7 292.5L650.7 297.3M617.4 310.8L621 322.2M579.5 280L580.9 288.9M589.1 313.6L591.3 320.8M580.5 295.5L582.3 307.7M546 282.6L547.9 291.3M620.7 320.9L625 330.6M569 303.5L571.2 309.2M633.8 302.5L635.8 310.7M645 313.2L646.1 318.7M543.8 289.2L547.7 298.3M575.6 310.7L578.9 319.1M575.1 287.2L578.3 297M636.5 292.1L639.8 300.6M559 315.9L562.1 322.5M642.4 299.1L644.1 304.1M561.5 314.1L565.7 323.8M560.7 310.7L563 316.3M563.5 322.7L567.2 330.7M639.1 303.3L643.4 312.6M603.6 308.4L605.2 318.4M588.8 318.4L593.4 329.8M648.1 293.9L650.1 303.6M617.7 303.2L620 313.3M579.4 281.2L580.7 287.2M617.6 290L618.8 298.2M621.8 266.4L626.3 277.3M630.3 273.3L633.6 283.9M552 302.3L554.7 314.6M555.6 314.2L558.3 320.9M629.6 289.8L633.2 301.4M633.7 275.9L635.9 288.6M616 272.4L618.5 281.6M573.6 309.6L576.1 315.5M643.6 279.8L647.8 290.2M629.1 289.5L630.6 294.4M644.9 306.8L646.7 314.8M576.3 308.8L577.3 314.3M617.8 290.7L621.4 299M643.3 309.3L645.4 319.2M563.7 293.1L567.4 305M577 299.9L579.3 311.1M552.2 286.5L554.1 294M643.6 261.4L647.6 270.9M647.1 285.5L649.8 293.2M647.4 302.2L648.9 310.4M599.8 281.5L603 292.3M615.1 267.7L618.6 277.3M597.1 295.2L600.1 301.9M591 320.4L591.7 326.1M587.6 298L589.6 307.5M609.5 299.2L611.9 305.2M583.9 298.2L585.9 310.8M604.5 266.6L607.2 276.7M565.9 313.6L569.6 323.1M644.8 316.2L646.3 323.4M587.8 319.5L589.7 325.8M645.7 285.1L647.2 290.4M609 267.4L613 277.8M595 297.3L596.9 302.6M579.1 282.8L580.8 293.4M592.2 294.1L594.5 304.8M624.1 277.9L626.4 284.9M583.9 315.5L585.5 320.7M621.7 279.1L624.3 291.2M638.1 294.7L643.2 305.8M548.6 294.9L550.9 300M635.2 305.1L636.7 311.4M628.9 272.1L631.8 283.6M553 284.9L556.4 294M577.6 321.8L581.5 333M586.4 290.5L588.5 301.1M613.8 275.1L615.4 280.5M567.1 287.6L569 299.4M572.1 305.7L573.4 316.1M635.9 287.8L637.7 297.5M601.3 288.9L603.5 297.6M618.5 268.9L623.2 280.1M631.9 313.5L633.7 319.4M590.1 273.3L593.7 285M643.5 266.8L646.4 278.3M648.3 295.9L649.5 301.7M576.1 308.7L577 314.7M634 314.8L638 324M574.2 312.2L578 323.7M619 275.1L621.7 284.3M586.3 313.4L591 324.5M642.4 278.1L644.6 287.9M640.4 268.2L642.3 279.1M623.6 292.5L624.9 297.4M557.2 302.7L558.9 313.8M557.9 279.4L560.1 287.9M632.2 302.1L634.1 313.9M625.9 312.6L626.8 319.2M588.6 320.1L591.1 327.5M553.6 304.4L554.7 310.8M632.6 270L634.6 282.5M613.2 321.3L614.6 330.2M606 265.3L607.9 277.6M553.4 271.5L557.6 281.2M648.3 273.5L651.1 283.9M554.8 280.2L557.6 291.4M638.2 319.8L639.7 326.6M637.1 304.3L638.9 311.3M572 321.9L574.4 330.5M559.7 308.8L561.6 316.4M574.9 295.1L578.7 306.2M647.6 285L649.1 293M621.9 301.4L622.7 307.6M570.8 293.7L572.6 303.9M567.2 292.2L569.4 304.1M606.6 291.7L609.9 300.6M581.2 309L582.9 320.3M556.2 317.7L561.1 328.5M561.4 287.2L562.8 292.8M548 280.7L549.8 287.6M630.3 283.8L632.5 292.6M556.6 292.5L560.5 304.2M548.1 296.8L549.6 307.3M563.8 311.1L566 320.3M609.1 282.5L610.8 288.1M578.3 299.8L579.4 306.3M599.2 290.4L600.9 300.6M640.3 271.1L643 282.4M646.3 305.2L648.7 313.7M609.1 267.9L610 273.6M557.8 274.9L558.7 280.1M631.5 289.1L633.3 298.8M625.8 275.5L627.3 282.1M638.5 315.7L640.2 320.5M618.1 267.2L619.5 274M625.6 320.9L627 331.7M588.2 296.6L591.1 303.5M599.2 281.2L600.3 288.5M619.7 317.5L622 329.1M629.7 306L631.9 310.8M562.8 296.2L564.2 305.9M578.3 309.8L582.1 317.9M567.6 280.2L569.9 287.4M560.6 318.9L562.8 326M607.9 319L610.1 327M645.7 280.7L647.9 287.3M554.5 276.3L556.4 285.6M637.9 267.5L641.9 277.1M565.4 323.3L566.1 328.5M589.5 309.5L590.7 315.1M581 302.6L582.4 313.3M599.3 311.7L602.2 319.1M549.3 279.7L551.9 289.9M569.4 323.6L572.1 332.3M639 300.3L640 306.5M606.8 291L609.7 301.4M637.2 267.9L639.3 273.6M558.2 322.9L560.8 329.9M556.4 289.4L558.7 298.2M643.3 284.5L644.9 292.5M577.3 295.4L580.4 306.8M580.5 280.2L582.8 289M585.4 315.8L588.1 322.6M562.9 316.8L564.2 326.2M560.6 311.2L562 321.2M626.1 318.4L629.9 330.4M624.1 289.5L625.6 296.2M639.6 312.6L641 320.4M549 314.4L551.1 320M622.2 270.1L623.7 277.6M562.9 321.3L566.6 333.2M621.4 295.3L623.5 301.3M623.3 265.4L624.8 273.6M573.3 309.6L575.1 320.5M596 302.1L597.1 307.8M607.5 300.1L609.4 307.3M577.3 283.2L578.6 291.2M581.9 291.8L584.5 299.8M613.9 301L615.7 307.8M585.9 297.1L588.6 307.9M579.2 284.2L581.1 289.3M582.9 312.1L585.6 324.4M620.6 311.7L622.2 317.4M637 297.7L638.8 305.8M608.9 324.4L611.6 331.6M613.2 310.8L618 321.8M616.7 294.1L618.5 299.2M568.3 315.8L572 326M575.1 298.8L576.3 303.7M605.6 304.9L607.3 309.8M597.4 302.7L598.3 310.1M554.5 286.4L559.4 297.5M628.6 317L631.7 324.8M640.9 313L642.5 318.7M637.5 263.5L640.5 270.1M580.4 276L585.3 287.2M622.6 308.8L623.9 315.9M610.1 303.5L611.5 309M609.9 282.3L611.4 290.8M619.1 310.3L623.1 319.3M576.7 318.8L578.3 324.3M610.7 292.4L612.9 301.1M596.1 324.7L598.7 334.2M645 267.5L647.4 274.2M617.7 286.8L620.6 297.1M607.4 270L610.6 277M607.2 307.6L609.4 315.9M544.6 308.3L545.9 313.5M559.3 274.6L561.3 280.9M596.6 309.7L598.9 316.3M578.6 318L581.2 328.7M578.6 285L580.2 290.9M547.3 288.1L550.5 295.8M554.5 276.4L558.8 288M557.8 290.7L559 297.8M596.6 313.4L600.6 325.1M590.5 302.1L594.9 314.2M550.6 270.2L555 280.3M593.4 291.1L596.4 301.9M564.8 295.9L567 301M586.4 309.8L588.5 319.7M571.2 278.6L574.4 289M598.1 317.2L601.2 324.9M633.4 295.2L635.2 305M613.3 300.3L616.2 312.5M602.9 297.4L605.6 307.8M593.1 297.2L595.4 309.9M624.5 270.6L628.2 282.9M624.8 311.1L626.6 323.2M595.2 311.5L597.9 318.9M636.5 289.7L640.1 299.7M575.1 298.5L576.2 304.2M635.5 317.8L638.9 329.5M561.2 288.2L564.7 299.6M649.3 284L651.4 292.1M606.5 273.9L610.3 285.2M578.3 307.1L580.9 315.6M640.4 262.8L642.3 270.2M575.8 315L579.6 323.4M625.9 271.8L628.1 282.4M643.9 259.3L647.3 267.5M609.8 312.8L612.6 324.1M561.6 295.3L563.5 305M578.2 281L579.8 292.2M589.3 299.6L590.2 305.3M618.5 284L619.6 289.4M592.5 290.2L593.3 295.5M594.3 284.8L595.4 289.9M632.9 278.7L635.5 288M615.9 319.6L617.9 324.8M632.4 318.8L634.9 325.1M596.5 282.2L598.7 293.4M590.6 307.7L592.6 319.9M629.4 298.6L632.5 309.2M580.8 323.4L582.8 328.8M595.7 283.9L599.3 296.1M551 289.7L553 302.1M583.4 280.7L588.5 292.2M606.7 279.8L610.6 292.1M595.7 321L597.2 326.2M584.2 302.7L586.3 309.5M583.3 311.4L584.7 321.3M606.4 318.7L608.6 325.3M592.8 305.2L595.2 316.6M639.1 305L640.9 313.1M640.9 288L642 295.3M621.3 278.6L623.2 287.9M613.3 303L615.1 311.6M636.9 264.1L640 274.5M551.9 306.2L555.4 316M629.5 306L632 311.4M578.9 305.3L580.9 312.8M613.9 308.2L616.7 319.1M572.8 303.8L576.4 312.3M555.8 314.7L558.9 323.4M567.1 292.1L569.2 296.7M639.9 288.5L642 299.5M640.8 288L645.8 299.7M610 291.1L613.1 298.4M642.6 312.7L643.3 318.1M626.9 273.5L632.3 285.1M610.4 315.9L612.9 321.8M570.3 312.8L575.2 323.6M636.6 270.1L639.8 282.4M645.1 302L648.3 310.6M639.3 313.5L640.1 318.7M622.4 314.3L623.8 319.2M570.8 281.6L572.6 289.4M564.9 282.6L566.6 292M572.2 320L575.5 327.7M637.5 313L640.4 321.7M586.5 285.1L588.6 289.9M586.6 285.2L587.6 290.5M577.8 291.5L579.2 296.5M604.1 278.6L607.3 286.2M591.6 290.1L594.2 296M613.6 285.2L614.4 291.2M555 267.9L556.9 278.9M566.8 292.3L568.1 300.9M642 279L644.8 288.9M552.7 299L555.8 308.1M631.4 269.9L634 282.2M564.5 303.7L566.1 313.9M620.5 287.7L622.6 292.6M576.6 317L578.1 327.1M620 300.8L622.5 308M616.8 298.7L618.7 307.2M599.2 312.6L601.4 324.4M585.6 282L587.4 290.6M610.1 324.7L612.5 330.9M553.7 295.2L555.9 300.4M571.2 304.7L572.1 310.6M642.3 289.5L645.8 298.4M593.3 317.1L596.5 329.5M593.2 306.6L598.5 318.3M611.7 270.7L614.7 280.4M629.3 311.1L634.2 322.8M640.8 314.7L643.7 325M612.9 281L615.1 285.9M560.8 296.2L563 303.8M620.3 284.2L622.7 290.9M597.5 314.6L599.7 324M562.1 298.5L565.4 311M645.7 294.6L648.4 305.4M568.3 312.3L569.4 320.8M602.1 267.6L605.9 279.7M586.7 314L587.6 320.8M576 298.9L577.6 308M633.4 298.1L635.2 308.2M620.8 282.5L621.8 288.2M566.3 277.7L568.2 288.8M618.9 292.5L620.2 300.2M616.2 301.2L617.5 309.2M609.1 309.7L612.9 320.5M621.6 309.2L625.4 318.4M582.6 322.2L586.4 332.9M609.7 315.6L614.3 326M639.3 295.7L640.8 302.1M586.3 312.5L588 321.2M549.4 307L551 314.2M570.5 290.5L573.2 298M643.6 312.8L647.6 323.1M606 302.3L609 311.6M646.8 285L650 291.8M570 286.4L574.5 296.5M577.9 300L580.2 310.4M615.7 292.7L617.2 300M578.8 309.3L580.2 317.6M570.2 285L571.5 291.6M628.3 317.6L629.3 325.4M622.1 308L623.9 317.1M638.3 308.8L639.4 315.7M618.1 321.9L620.2 331.9M637.5 298L640.2 307.2M631.4 269.6L633.9 276M628.4 276.7L629.3 283M624.5 311.3L627.8 321.8M621.4 267.6L623.9 278.5M565.7 314.4L569.6 325M603.9 271.4L606.7 281.7M587.2 298.1L589.2 306.7M577.9 286L581.8 298M547.6 293.1L550.4 301.8M554.2 318.5L556.3 324.7M643.9 286.5L646.5 292.9M624.3 291.4L625.6 301.4M567.7 299.8L571.7 308.5M633 263.1L635.2 272.3M582.8 290.4L587.6 301.9M613.9 284.1L615.9 290.8M604.9 314.7L605.9 319.7M622.8 299.9L624.7 305.3M570.8 297.1L573 302.3M549.2 310.8L551.7 320.3M646.8 273.1L650.9 282.3M581.1 324L583.3 332.6M558.6 285L562.2 296.7M549.1 298.3L552.1 306.9M612 309.9L615.3 318.8M595.8 317.1L598.5 323M550.8 283.1L551.8 288.2M619.8 303.1L621.2 311.2M642.5 307.8L646.5 317M579.3 292.2L582.7 303.3M625.8 304.2L628.5 311.5M617.7 291.1L618.9 298.2M594.8 278.4L598.4 290.3M644.6 300.8L649.3 310.9M622.8 283L624.6 291.5M566.3 277.8L568.2 287.2M560.4 320.9L562.4 326.2M634.7 303.9L636.2 311M594.8 294.1L598.4 306.3M589.6 311.5L593.8 321.2M611.5 282.6L615.7 292.7M601.5 303L603.5 307.6M596.7 323.5L598.8 330.3M647.4 288.6L649.3 293.9M590.9 287.9L594.2 297.8M606.6 268.5L608.3 275.7M554.6 267L556.8 272.9M590.1 321.5L591.9 331.9M639.3 273.8L642.2 283.7M588.7 300.6L592.2 309.2M593.4 282.2L596.7 292.7M639.2 301.1L641.3 311.8M621.7 307.4L624.1 318.8M621.6 272.3L623.2 283.3M636.8 258.8L638.6 270.8M644.4 300.2L645.9 309M575.9 287.8L579.2 297.5M614.9 285.4L617.2 295.3M639.5 308.3L643.2 319.3M613.2 288.9L615.8 297.7M605.6 306.1L607 313.6M620.9 262.3L622.3 268.5M621 285.9L623.5 298.1M636.7 305.3L639.1 312.3M548.2 312.6L550.9 322.2M551.3 280.4L553.5 290.2M619.2 295.9L622.2 303.8M572.9 314.8L577.3 324.7M567.7 314.6L571 323.5M645.4 301.4L650.3 312.6M632.8 277.6L634.5 289.4M598 274.3L601.9 286.5M596.6 280.5L599.3 293.2M588.8 318L592.7 329.5M631.2 283.5L632.1 289.9M565.5 313L568.1 319.6M642.9 310.3L645.9 321.9M567.4 310.5L569.7 316.1M577.7 314.6L579.7 326.3M563.4 283.3L565.5 288.2M575.8 303.6L577.2 314.1M563.6 310.6L566.6 318.9M607.5 319.5L612.4 331.5M559.8 316.6L562.2 322.1M632.2 316.8L633 322.7M609.7 264.6L611.8 274.9M566.9 317L570 328.2M616.1 286.1L617.6 291.6M596.2 311.4L597.6 318.9M552.9 287.6L554.1 295.1M643 258.7L647.4 270.4M630.1 256.7L632.1 267.6M550.6 279.1L553.5 288.9M569.1 314.8L569.9 320.8M631.8 267.6L635.9 277.5M620.5 282.6L621.9 292.8M614.1 299.2L616.1 304.8M572.6 309L576.2 319.6M627.9 293.2L629 299.2M632.8 273L636 284M591.3 308.2L593.1 320.7M630 274.5L632.2 281M620.5 291.5L622 296.7M589.2 291.6L591.4 297.3M602.7 301L606.2 311M547.1 304.4L550 314.5M639.4 281.1L642.7 291.1M602 282.2L604.2 294.6M579.6 321.4L581.9 326.3M591.7 271.2L596.1 281M574.2 279.8L576 287.5M626.4 290.3L627.5 295.5M627.3 314.6L629.9 322.2M632.3 297.7L633.7 303.9M577.6 313.2L579 319.7M605.2 298.2L608.5 306.2M598.1 296.2L601.6 307.2M559.4 311.7L561.7 319.6M641.3 266.9L643.7 275.1M631 308.9L633 316.8M626.3 299.9L629.1 306.5M637 307.7L639.2 314.9M586.7 284.9L591.6 296.9M577.1 297.3L578.1 303.5M587.6 317.1L591.8 327.7"/>
    <path fill="none" stroke="#ecc04a" stroke-width="1" stroke-linecap="round" opacity=".35" d="M550.9 271.2L554.6 281.9M595.7 307L599 314.9M633.5 292L635.1 303.1M622.8 266L627.1 275.2M633.8 315.7L634.7 322.1M552.8 267.3L553.6 273.1M575.5 320.2L579.5 330.1M621.8 295.6L624.4 305.7M605.9 274.4L608.1 280.8M586.4 326.5L588 331.8M593.8 312.5L596.7 322M575.7 285.7L577.6 290.6M616.2 321.1L619.5 332.3M635.2 299.9L637.5 308.1M567.9 284.5L569.2 290.7M633.7 291.5L636.3 301.9M612.4 269L614.2 273.7M607 324.3L608.3 331.4M565.9 311L568 319.1M640.7 285.1L641.6 290.2M645 269.4L649.7 279.5M620.6 304.1L622.1 311.6M555.9 277.8L557.5 289.5M567.4 286.7L570.6 297.5M570.4 296.8L572.6 301.9M637.8 290.7L639.3 301.7M623.1 261.3L626.1 272.9M646.9 274.1L650.2 283.5M598 270L599.2 279.2M597.8 310.5L599.9 315.7M620.3 320.6L622.9 328.5M610.9 294.2L613.6 300.6M551.9 283.5L555.9 293.7M578.2 324.1L579.4 330.9M559.7 296.7L562.2 305.1M556.8 294.1L558.4 302.1M569.7 319.1L573.7 330.4M625.9 285.3L630.6 296M628.9 300.7L630.3 306M648 278.5L650.3 286.6M637.9 290.2L641.3 300.7M635.5 307.2L636.7 314.6M554.4 280.6L556.9 290.7M621.5 300.1L623.9 309.5M600.9 276.5L604.6 285M633 276.6L635.1 285.8M616.5 318.6L617.7 324M608.8 281.1L611.7 290.3M562.6 301.9L563.4 307.4M633.6 305.2L636.8 315.1M552.4 268.3L553.5 277.6M591.7 296L592.5 302.3M610.7 286.4L613.7 297.6M556.4 315.4L557.8 322.2M556.7 309.1L557.9 316.4M558.4 296.1L560 303.4M559 274.3L560.1 280M564.4 290.5L566.8 296.7M622.2 275.2L623.7 280.6M598.7 306.4L600.6 312.5M546.9 278L548.6 283.4M588 292.2L591.9 301M644.7 304.6L647.9 315M645.1 309L646.6 319.2M595.1 306.3L597.7 313.3M570.9 316.9L573.3 322.5M586.1 325.4L588 330.3M547.7 281L551.7 289.8M549.7 271.8L552.5 278.1M552.7 270.1L555.1 276.3M611.1 284.8L613 289.5M636 315.1L637.3 325M589.1 280.5L592.1 288.1M587.2 321.2L590.8 330.4M621.7 304.2L623 309.3M558.7 291.5L561.6 302.9M626.2 271.9L630.2 281.6M553.3 300L554.2 305.5M554.8 302.5L555.9 307.4M593.6 312.2L595.1 319.8M544.3 300.2L546.4 307.8M606.7 297.5L609.2 306M603.8 311.9L604.8 317M627.1 275.4L629 281.6M576.5 286.3L578.2 291.8M574.5 288.9L577.2 297.2M551.1 295L552.6 305M602.9 313.8L604.8 319.8M607.9 273.7L611.5 283.5M566.3 306.4L568.9 317.4M622 275.9L624.4 286.8M637.1 321L639.7 327.2M562 313.2L563.9 321.9M564.8 287.4L566 292.5M638.5 304.1L640.3 315.6M598.1 278.5L600.7 286.5M607.5 276.6L610.4 284.7M639.3 301.9L641.7 310.5M631.2 288.5L633 293.8M569.8 300.2L573.5 311M592.3 313.3L596.6 324.4M634.5 319.3L636.1 327.8M560.4 315.3L561.5 323.4M624.9 298.9L627.1 310.1M612.4 267.6L615 276M567.6 307.3L569.5 312.6M581.8 308.4L583.5 315.5M588.7 306L589.6 311.7M564.3 287.2L566.6 293M547.1 286.6L549.8 295.5M594.3 277.1L596.2 285M606.3 319.3L608.6 330.9M630.3 309.1L631.6 319.1M623.6 303.4L624.7 312M584.2 298.8L588.1 308.6M599 281.5L601.2 291.2M609 280.9L610.3 285.8M568.5 311.9L569.9 318.3M599.5 314.2L601.2 321M598.6 281.7L600 292.2M566.1 300.5L567.2 306.8M558.7 296.8L560.5 304.6M601.5 299.9L602.7 305.5M566.9 318.9L569.5 329.4M552.7 309.7L554.4 319.7M567.5 310.4L568.6 317.4M595.5 324.5L599 333.4M626.6 296.3L627.8 304.7M560.3 282.5L563.2 290.6M583.2 313.3L585.7 323.6M619.7 281.1L621.7 292.1M634.3 304.3L636.3 309.5M596.5 313.5L597.4 319M549.1 286.7L550.9 293.8M617.1 307.9L619.1 319.2M561 321.8L564.7 330.3M625.4 265.3L628.8 274.4M548.7 300.5L551 306.1M571.1 295L574 301.7M623.2 287.9L625.4 299.2M644.6 275.2L646 281M547.5 302L549.1 307.9M575.2 307.9L576.6 313.5M634.5 258.8L637.3 267.6M599 321L601.2 326.3M575.3 323.4L579.1 331.8M611.5 321.7L615.5 331.2M589.4 318.2L590.7 327.4M609.5 264.5L613.3 275.2M610.8 274.6L614.7 284.5M628.2 302.6L629.4 308.9M595.5 317.3L597.1 324.9M585.1 317.7L586.5 323.9M580.9 290.6L583 295.2M620.9 288L624.4 295.5M611.1 280L615.1 290.4M629.3 291.5L631.5 301M604.3 281.6L606.4 287.9M628 279.4L630.7 285.2M630.2 299.5L632.2 304.5M586.2 297L587.6 302.7M624.8 313.2L627.9 324.5M565.7 319.2L566.8 325.6M621.1 281.9L622.4 288.9M609 298.4L611.7 309.1M608.4 274.7L610.6 281.3M598.5 287.5L600.5 294.5M629 288.8L631.3 296.6M597.1 283.6L598.6 288.5M597.5 274.1L599.3 279.6M552.6 284.3L553.8 289.2M641.1 272.4L643.3 278.8M644.7 315.4L646 325.5M625.2 263.7L629 274.3M585.5 289.1L587.7 298.6M596.2 273.1L598.6 282.5M583.4 292.7L586.8 302.6M619.3 286.6L621.5 296.9M622.8 312.3L627.4 322.1M638.1 290.3L639.4 300M637.9 299.3L639.1 308.7M584 278.6L585.7 285.1M640.1 309.9L641.7 319.1M565.9 291.7L568 296.6M614.3 309.1L615.8 319.1M640 277.7L642.9 285.5M578.8 298.4L580.1 306.5M607.3 269.7L608.7 279.7M623 284.9L624.2 291.3M636.7 299.4L638.8 307M574 281.6L576.9 290M553.5 268.2L554.6 274.1M568.5 308.2L572.4 319.2M556.9 276.3L558.3 282.3M581.2 285.4L582.9 294.8"/>
    <rect x="540" y="300" width="116" height="34" fill="url(#fadeDown)"/>
    <path fill="none" stroke="#f2cf58" stroke-linecap="round" stroke-width="0.9" opacity="0.6" d="M636.1 306.6L638.4 317.2M565.5 314.9L568.9 325.5M617.4 313.1L620.6 326.3M625 317.4L627.6 329.7M644.1 313.3L646 323.4M604.1 321.5L606.3 328.9M594.2 321.1L596.6 331.9M565.1 313.1L566.6 321.8M550.3 309.3L553.5 323.3M579.7 313.8L582.5 323.2M624.6 318.8L626.9 326.4M625.6 321.8L627.1 330.8M600.8 323.6L604.3 338.7M551.1 312.9L556.1 326.3M600.9 327.8L602.8 337.7M644.2 315L646.6 322.3M600.7 323.5L604 333.8M636 313L640.2 327.4M615.4 312.4L618.2 326.6M610.4 310.4L613.5 320.6M623.5 315.8L626.8 329.8M557.2 318.7L560.5 330.3M631 311.9L632 319.5M602.4 316.7L606 328.2M594.4 316.9L595.7 323.8M583.3 321.1L588.1 335.1M566.6 320.4L570.1 330.9M616.8 315.2L619.1 326.9M601.4 314.9L605.8 329.3M555.7 324.5L557.5 335.8M624.7 320.8L626.7 330.2M577.7 310.5L582.2 325.5M580.3 312L584 325.8M594.4 318.2L597.2 327.3M554.7 308L559.1 322M603.9 315.6L605.3 324.8M632.3 309.4L633.9 322M550.8 323.7L553.8 333.5M560.4 322.8L565 335.7M586.5 321.9L588.7 329.3M637 317.6L642 332.5M637 308.4L641.4 320M560.2 320.4L563.6 333.3M604 321.6L606 333.9M605.9 313.8L608.4 321.2M632.4 310L635 319.5M609.1 316.9L610.8 327.7M582.8 317.4L585.6 332.5M578.2 322.5L580.2 338.2M559.6 311.6L562.2 325.9M550.6 312.3L553.3 325.9M578.6 313.8L580.6 325.9M587.6 309.4L591.3 321.9M629.4 317.4L630.9 329.1M608.7 312.4L612 327.3M645.2 321.5L647.1 328.9M631 315.4L633 322.6M550.5 312.2L552.3 325.8M617.6 321.3L620.1 329.4M605.9 317.9L607.7 325.8M552.7 314.8L556.8 326.9M577.8 318.2L580.1 330.4M573.4 310.8L576.3 322.3M626.6 313.2L627.5 320.4M626.4 319L627.6 327.2M557.8 325.4L560.4 332.7M626.7 320.3L628.4 332.8M597.4 308.5L601 324M610.5 323.7L614.8 336.6M628.9 310.5L631.2 317.6M627.6 321.5L630.3 333.4M625.5 317.9L630.1 331.3M581.6 316.1L585.2 330.8M587.7 325L591.1 334.3M614.3 319.7L615.8 328.5M627.1 324.4L629.8 332.2M607.7 312.9L611.1 326.8M598.5 314.8L601.9 329.9M626.2 323.4L629.9 335.2M629.3 319L631.3 334.1M559.5 317.4L562 325.9M597.4 328.7L598.8 336.5M571.9 313L573.6 324M562.8 319.2L565.1 326.2M623.6 321.2L627.5 332.6M610.7 323.8L612.6 331.1M639.7 310.6L641.8 321.6M624.1 312.7L627.7 322.9M594.3 322L597.7 334.5M583.3 319.8L588 333.9M633.1 324L634.6 331.8M619.6 320.1L622.9 335.4M642.1 320.5L643.3 328.7M576 314.6L579.7 329.8M609.9 316.7L613.2 331.9M586.9 321.8L589.2 332.2M548 314L550.2 321.4M595.6 311.1L597.5 325M613.3 325.6L615.7 333.3M608.3 309.9L609.6 320.6M634.5 309.7L638.7 321.6M616.2 308.1L618.4 323.7M645 306.7L647.6 320.1M619.8 311.8L622.6 323.8M584.8 313.3L586.2 321.2M552.4 307.5L556 317.8M632.4 312L636.8 324.3M580.3 317.7L582.3 328.6M620.2 317.4L622.4 331.1M636.4 321.6L639.8 332.7M623.9 320.9L626.6 335.2M629.7 318.8L631.2 326.1M594.7 319.5L596.8 334M635.4 321.6L637.7 328.6M633.2 315.8L638.5 330.8M605.9 322.9L607.5 332M608.5 316L609.9 324M566.6 313.9L570.5 323.9M564.6 324.8L567.4 333.5M610.5 313.1L613 320.5M565.1 310.8L566.2 318.1"/>
    <path class="ink" style="fill:#fcf9ee" stroke-width="2.86" d="M573.4 252C572.5 249.9 571.5 247.9 571 246C570.5 244.1 570.5 243.5 570.5 240.5C570.5 237.5 570.4 232.2 570.9 228C571.4 223.8 572.3 219.2 573.4 215.5C574.5 211.8 576 208.2 577.8 205.5C579.5 202.8 581.6 200.8 584 199C586.4 197.2 589.3 195.5 592 194.5C594.7 193.5 597.2 192.8 600 193C602.8 193.2 606.3 194.2 609 195.5C611.7 196.8 614.1 198.6 616 201C617.9 203.4 619.6 206.5 620.5 210C621.4 213.5 621.3 218 621.3 222C621.3 226 621.1 230.7 620.5 234C619.9 237.3 618.8 239.2 617.8 242C616.7 244.8 615.7 248 614 251C612.3 254 610.1 257.6 607.8 260C605.4 262.4 602.9 264.4 600 265.6C597.1 266.9 593.3 267.7 590.2 267.5C587.2 267.3 583.8 265.9 581.5 264.4C579.2 262.9 577.9 260.8 576.5 258.8C575.1 256.7 574.3 254.1 573.4 252Z"/>
    <path class="ink blk" stroke-width="1.76" d="M574 214C573.6 213.9 576.1 208 577.8 205.5C579.4 203 581.6 200.8 584 199C586.4 197.2 589.3 195.5 592 194.5C594.7 193.5 597.2 192.8 600 193C602.8 193.2 606.3 194.2 609 195.5C611.7 196.8 614.1 198.6 616 201C617.9 203.4 619.5 206.5 620.3 210C621.1 213.5 621.2 219.3 620.8 222C620.4 224.7 618.7 226.9 618 226C617.3 225.1 617.6 219.3 616.5 216.8C615.4 214.3 613.6 212.5 611.5 211C609.4 209.5 606.5 209 604 208C601.5 207 598.5 206.2 596.5 205C594.5 203.8 593.7 201 592 200.5C590.3 200 588.5 200.9 586.5 201.8C584.5 202.7 582.1 204 580 206C577.9 208 574.4 214.1 574 214Z"/>
    <path fill="none" stroke="#fcf9ee" stroke-width="0.9" stroke-linecap="round" opacity=".85" d="M588 198.5C589.3 198.2 593.2 196.6 596 196.5C598.8 196.4 602.3 196.9 605 198C607.7 199.1 610.8 202.2 612 203M593 200.5C594.3 200.7 598.3 200.7 601 201.5C603.7 202.3 606.8 204.1 609 205.5C611.2 206.9 613.2 209.2 614 210M584 201L590 197.5M600 205.5C601.3 206 605.8 207.2 608 208.5C610.2 209.8 612 211.1 613.5 213C615 214.9 616.4 218.8 617 220M598 195C599.5 195.2 604.3 195.5 607 196.5C609.7 197.5 612.2 199.1 614 201C615.8 202.9 617.3 206.8 618 208"/>
    <path class="ink" stroke-width="2.97" d="M555 266C555 263.7 554.7 256.2 555.2 252C555.7 247.8 556.7 245 558 241C559.3 237 561.3 232.2 562.8 228C564.2 223.8 564.8 219.7 566.5 215.5C568.2 211.3 570.2 206.8 572.8 203C575.2 199.2 578.2 195.7 581.5 193C584.8 190.3 589.4 188.1 592.8 186.8C596.1 185.5 598.4 185 601.5 185C604.6 185 608.2 185.7 611.5 186.8C614.8 187.9 618.4 189.7 621.5 191.8C624.6 193.9 627.9 196.4 630.2 199.3C632.6 202.2 634.3 205.6 635.9 209.3C637.5 213.1 638.7 217.6 639.6 221.8C640.5 226 641.1 230.1 641.5 234.3C641.9 238.5 642.2 242.9 642.1 246.8C642 250.8 641.2 256.1 641 258"/>
    <path class="ink" stroke-width="2.2" d="M573.6 221C574.3 220.8 576.3 220 578 219.8C579.7 219.6 582.8 219.6 583.8 219.6"/>
    <path class="ink" stroke-width="2.2" d="M596 221.3C597.2 221.5 601 221.9 603 222.5C605 223.1 606.7 224.1 608 225C609.3 225.9 610.5 227.5 611 228"/>
    <path class="ink" stroke-width="1.98" d="M577 231C577.5 231.2 579 231.9 580 232C581 232.1 582.5 231.7 583 231.6"/>
    <path class="ink" stroke-width="1.98" d="M599 232C599.7 232.2 601.8 233.4 603 233.5C604.2 233.6 605.9 232.6 606.5 232.4"/>
    <path class="ink" stroke-width="2.31" d="M587.3 228C587 228.8 586 231 585.5 232.5C585 234 584.5 235.7 584.3 237C584.1 238.3 583.9 239.4 584.3 240.5C584.7 241.6 585.4 242.9 586.5 243.5C587.6 244.1 590.2 243.9 591 244"/>
    <path class="blk" stroke-width="1.2" stroke-linejoin="round" d="M583.4 253C585 250.6 587 249.6 588.5 250.3C589.6 249.6 591.5 250 592.5 251.5L594 254C591.5 252.8 589 252.6 588.3 252.6C587 252.6 585 253 583.4 253Z"/>
    <path class="ink" stroke-width="2.42" d="M586.8 257.2C587.2 257.4 588.2 258.4 589 258.4C589.8 258.4 590.9 257.5 591.3 257.3"/>
    <path class="ink" stroke-width="2.09" d="M542.7 189.5C543.3 190 545.4 191.1 546.5 192.5C547.6 193.9 548.4 196.6 549.5 198C550.6 199.4 551.9 200.3 553 201C554.1 201.7 555.5 202.2 556 202.4"/>
    <path class="ink" stroke-width="2.09" d="M529 212.4C529.8 212.7 532.2 214.1 534 214C535.8 213.9 537.8 211.9 539.5 211.6C541.2 211.3 542.9 211.7 544.5 212.3C546.1 213 548.2 215 549 215.5"/>
    <path class="ink" stroke-width="2.09" d="M530.3 236.2C531.2 236.2 534.3 237 536 236.3C537.7 235.6 539.1 233.4 540.5 232C541.9 230.6 543 228.9 544.5 228C546 227.1 548.8 227 549.6 226.8"/>
    <path class="ink" stroke-width="2.83" d="M618 200C619.3 202 623.8 207.7 626 212C628.2 216.3 630.2 221.3 631 226C631.8 230.7 631.2 235.5 630.5 240C629.8 244.5 628.5 249.2 627 253C625.5 256.8 622.4 261.3 621.5 263"/>
    <path class="ink" stroke-width="2.59" d="M637.5 232C637.4 234.2 637.8 240.8 637 245C636.2 249.2 634.5 253.7 633 257C631.5 260.3 628.8 263.7 628 265"/>
    <path class="ink" stroke-width="2.83" d="M562 250C562.2 252 562.3 257.8 563 262C563.7 266.2 564.8 271.5 566 275C567.2 278.5 569.6 281.7 570.3 283"/>
    <path class="ink" stroke-width="2.59" d="M566 250C566.3 252 567 258 568 262C569 266 570.8 271 572 274C573.2 277 574.5 279 575 280"/>
    <path class="ink" stroke-width="2.59" d="M574 259C574.7 260.6 576.5 265.6 578 268.5C579.5 271.4 582.2 275 583 276.3"/>
    <path class="ink" stroke-width="3.08" d="M555.3 250C555.2 252.5 554.5 260.8 554.6 265C554.7 269.2 555 272.1 556 275C557 277.9 558.9 280.4 560.3 282.5C561.7 284.6 563.9 286.7 564.6 287.5"/>
    <path class="ink" stroke-width="3.33" d="M553 266C552.2 267.5 549.4 271 548 275C546.6 279 545.4 285 544.8 290C544.2 295 544.1 300.4 544.3 305C544.5 309.6 545.7 315.4 546 317.5"/>
    <path class="ink" stroke-width="3.2" d="M547 317.5C547.7 315.4 549.5 308.5 551 305C552.5 301.5 554 298.8 556 296.3C558 293.8 560 292.1 563 290C566 287.9 570.1 286 574 283.8C577.9 281.6 582.1 279.2 586.5 276.9C590.9 274.6 596.1 272.5 600.3 270C604.5 267.5 608.2 264.7 611.5 262C614.8 259.3 618 256.3 620.3 253.8C622.5 251.3 624.2 248.1 625 247"/>
    <path class="ink" stroke-width="2.59" d="M578 287C580 286.2 585.5 284.1 590 282C594.5 279.9 600.7 277.4 605.3 274.4C609.9 271.4 614 267.4 617.8 263.8C621.5 260.2 626.1 254.4 627.8 252.5"/>
    <path class="ink" stroke-width="2.46" d="M562.8 307.5C564.3 306.5 568.2 303.4 572 301.3C575.8 299.2 581 296.7 585.3 295C589.6 293.3 594 292.8 597.8 291.3C601.5 289.9 604.6 288 607.8 286.3C611 284.6 615.5 282.1 617 281.3"/>
    <path class="ink" stroke-width="2.83" d="M559 324.4C560.2 323 563.8 318.9 566.5 316.3C569.2 313.7 572 311.2 575.3 308.8C578.6 306.4 582.8 304.4 586.5 301.9C590.2 299.4 593.8 296.6 597.8 293.8C601.8 291 606.3 288.2 610.3 285C614.2 281.8 618 278.2 621.5 274.4C625 270.6 628.4 265.9 631.5 262C634.6 258.1 638.8 253.1 640.3 251.3"/>
    <path class="ink" stroke-width="2.59" d="M576 319.4C577.5 318.3 581.9 314.8 585.3 313C588.7 311.2 592.8 310.2 596.5 308.7C600.2 307.2 603.8 305.6 607.8 303.8C611.8 302 616.4 300.3 620.3 298C624.2 295.7 627.5 292.9 631 290C634.5 287.1 639.8 282.2 641.5 280.6"/>
    <path class="ink" stroke-width="2.46" d="M599 323.8C600.9 323.1 606.5 321.3 610.3 319.4C614 317.5 617.5 315.1 621.5 312.5C625.5 309.9 630.5 306.9 634 303.8C637.5 300.7 640.5 296.5 642.8 293.8C645.1 291.1 647 288.6 647.8 287.5"/>
    <path class="ink" stroke-width="2.46" d="M606 325.6C608 325.1 613.8 323.9 617.8 322.5C621.8 321.1 626.5 319.1 630.3 317C634 314.9 637.5 312.7 640.3 310C643.1 307.3 645.9 302.2 647 300.6"/>
    <path class="ink" stroke-width="3.33" d="M643.4 253.8C644 255.2 646.1 259 647.1 262.5C648.1 266 649 270.4 649.6 275C650.2 279.6 650.9 285 651 290C651.1 295 651 300.3 650.3 305C649.6 309.7 647.5 315.8 647 318"/>
  </g>

  <!-- ILLUSTRATION 4: mother with newborn in bed, oil lamp -->
  <g id="illus-homebirth" filter="url(#rough)">
    <path fill="#f2cf58" opacity="0.17" filter="url(#soft)" d="M877 262L880 235L888 216L900 211L906 222L901 248L897 270L890 283L880 279Z"/>
    <path fill="none" stroke="#f2cf58" stroke-linecap="round" stroke-width="0.9" opacity="0.42" d="M884.6 220.8L891.5 234.4M891.9 255.8L895.7 265.6M896.2 246.3L900.2 258.7M899.5 238.9L903.2 246.4M895.8 217.1L900.1 229M875.2 261L882.3 274M899.2 220.1L903.6 233M877.1 252.5L884.1 266M891.6 248.1L898.3 261.5M898.6 226.9L904.5 238.5M886.8 253.9L890.8 263.6M887.6 257.1L893 269.7M891 269.7L894.3 279M876.7 251.9L883.6 265.2M894.1 259.9L897.9 270M881.9 236.3L886.1 248.7M887.6 238.8L890.2 248M879.9 253.6L886.3 267.2M883.4 270.7L889.5 284.4M893.7 210.2L899 221.1M878.7 228.8L884.3 240.6M892.3 257L896.4 267.7M898.1 205.9L903.6 220.4M894 243.9L897 252M877.3 242.9L880.9 252.5M900 226.6L906.6 239.7M893.4 266.2L896.1 275.3M892 226.5L896.1 239.1M882.3 242.8L885.5 251.3M879.6 240.1L885 250.2M876.4 264.1L880.7 276.8M874.6 259.3L880.9 272.1M883 230.8L889.7 244M881.9 270L885 277.7M892.5 242.9L899.5 255.5M885.9 218.7L890.4 230.1M894.6 240L899.4 252.5M888.8 258.3L893.3 272.3M887.3 257.7L892.2 267M877.3 264.8L880.6 277.4M897.6 234.1L900 241.5M886.5 232.2L889 240.4M900.1 229L902.8 238.4M899 217.5L903.5 232.6M885.4 217.7L888.6 228.5M890.6 270.5L894.1 279.1M894.1 243.3L899.7 255.3M901.1 222.1L905.3 235.3M890.5 220.4L893.8 229.4M882.6 268.9L885.9 276M883.3 233.7L888.4 246.6M880.7 270.8L886.8 285M888 254.3L892.2 262M883.2 232.8L888 242.4M877.6 244.7L881.5 258.9M896.6 253.1L899.6 260.2"/>
    <path fill="#f2cf58" opacity="0.21" filter="url(#soft)" d="M931 215L938 196L948 187L958 192L965 215L971 250L972 290L968 320L961 331L953 318L944 306L934 300L931 262Z"/>
    <path fill="none" stroke="#f2cf58" stroke-linecap="round" stroke-width="0.9" opacity="0.42" d="M940.2 212.9L944.4 225.3M945.8 186.1L950.8 196.5M930.1 210L934.1 221.2M939 268.5L941.1 275.2M962.3 283.7L965.8 291.4M963.7 267.5L967.8 280.4M944.6 260.5L948.4 272.5M965.1 266.6L967.5 273.6M938.2 224.7L942.5 232.7M933.4 222.2L936.9 231.9M942.9 210.2L949.5 224.1M954.5 268.7L960.6 280.8M936 235.5L939.4 247.8M951.8 278.9L955.9 292.3M940.5 218.6L947.3 232.5M965.1 227.3L968.7 237.3M966.5 248.9L970.5 257.2M951.3 217.8L956.7 231.9M945.9 213L948.9 224.2M933.8 272.2L937.2 282.5M932.1 236.3L935.1 247.6M956.2 258.6L961.7 270.1M932.6 242.4L938.6 256.8M949.5 205.6L953.6 219.8M941.8 275.1L944.7 282.9M960.4 259.1L964.1 270.3M927.3 226.9L934.7 240.4M965.5 303.3L968.6 310.2M931.3 250.9L937.8 263.1M947.3 259.5L953.7 272.9M945.9 211.2L950.8 223.8M937.6 225.7L940.9 238.1M946.9 257.5L951 265.5M942.9 267.7L946.8 275.8M930.6 271.1L937.2 284.7M939 279.7L942.6 287M966.7 262.7L972 275.7M961.6 209.6L966.6 219.2M946.3 248.1L950.5 260.4M946.2 231.4L948.9 240.3M936.9 247.2L940.7 256M947.8 307.6L950.5 314.5M949.4 214.3L952.4 221.2M939.8 294.9L944 304.9M951.6 286.1L956 294.8M968.2 264L973.2 276.8M930.6 264.3L936.1 277.9M932 207.6L936.6 219.9M939.3 199.8L942 208.7M953 270.6L957.8 281.8M937.1 285.4L941.7 294.9M955.7 223.9L961.4 236.5M931.9 245.3L936 260.7M930.7 210.7L937.3 224.7M965.4 309.8L968.8 317.5M962.4 280.9L968 295.8M961.9 222.8L967.1 237.4M933.7 198.3L939.3 208.9M940.7 269.9L943.6 278.3M954.1 218L959.9 232M945 220.7L951.7 232.9M955.2 219.1L959 230.4M945 181.8L952 195M966.2 259.7L969.9 271.4M933.9 198.5L940.2 212.2M962.4 306.7L964.9 315.2M938.9 194.7L943.6 208.9M944.2 269.5L951.1 283.2M961 307.9L967.5 319.9M962.5 306.9L965.3 315.9M963.6 304.2L969.9 317.1M948.5 226.6L951.3 235.3M928.9 208.1L935 221.5M955.7 238.8L958.9 250.3M933.9 244.9L937 254.2M953.4 255.1L958.3 266.2M937.7 282.4L945.2 295.8M951 284.4L955.2 296.8M944.3 192.4L947.6 201.8M958.3 225.4L962.7 235.1M945 224.8L950 234.4M967.8 278.5L971.3 290.5M941 261.7L945.7 270.1M946.7 265.3L950.5 275.8M946.3 210.8L952 224.8M960.9 206.3L966.4 216.6M954.9 228.7L959 241.8M957 216.1L960.2 222.6M939.9 251.8L942.2 259.1M945.1 271.7L950.9 283.6M950.1 218.8L952.5 225.5M959.3 293.1L964.3 302.7M949.1 187.6L955.4 200.8M947 294.9L952.4 309.9M965.7 269.8L969.4 280.7M963.1 259.3L967 272.5M947.7 218.6L953.2 230.1M960.8 257.6L964 266.5M932.1 223.7L936.3 232.6M950.3 201L956 212.9M946 261.1L949.5 269.2M952.9 280.5L957 293.8M943.1 288.1L947.7 302.9M945.9 288.9L950.4 300.4M938.6 215.3L941.5 221.9M943.1 280.9L946.5 288.7M948.9 202L951.4 208.8M944.1 262.7L950.2 273.9M934.1 248.9L939 258.1M938 229.1L941.3 239M960.2 303.3L963.5 310.3M930.5 259.8L933.1 269.6M955.3 293L960 306M934.6 279.2L937.8 287.6M956.9 291.9L962.5 303M942.4 279.4L945.2 289.6M956.1 271.1L962.5 283.5M962.2 266.4L969.5 280.5M961.1 232.2L965.1 241.8M949.6 229.3L953.9 243M955.3 301.2L958.8 311.5M958 319.6L964.1 332.5M950.4 250.4L955.7 262.9M948.6 271.6L951.5 278.2M936.6 295.1L942.8 308.7M956 220L963.5 233.6M931.9 284.3L937.1 297.1M956.7 273.5L962 286.6M933.2 214.3L936.4 223.5M952.9 250.1L956.8 260.2M960 230.2L963.1 239.1M939.5 200.8L943.1 208M951 292.7L955 300.8M949.3 285.7L952.4 297M940.6 197.4L944.6 205.5M951.3 220.7L954.5 232.3M957.9 199.7L961.2 210.6M964.7 264.6L968.9 274.7M968 250.7L971.2 260.9M932.1 274L936 281.3M953 226.9L955.1 234.6M961 270L963.7 278.6M949.6 245.1L955.3 258.7M954 267.4L958.9 282.1M938.1 213.4L940.9 221.3M935.4 193L940.8 202.6M952.4 222.9L958.2 235M957.3 245.2L962.4 259.6M960.7 269.8L965.9 284.3M945.8 258.3L951 272.6M935.9 225.5L939.7 237M940.6 198.6L945 211.2M968.2 255.5L971.1 262.6M930.7 245L934.6 253.4M963.1 262.1L967.4 277.5M955.3 219.7L961.9 231.9M949.1 276.7L951.5 285M953.5 274.8L956.5 282M942.8 228.1L947.7 241.9M941.2 279.9L947.8 293.9M962.5 261.7L966.2 270.8M945.9 254.9L949.3 267.3M951 241.9L955.5 251.1M960.6 272.9L963.4 281.3M945.3 280.5L952.6 294.5M953.3 216.1L958.7 226.8M951.7 193.1L955.6 207.8M948.2 198.4L951.6 209.4M957.3 253.7L963.5 266.8M952 236.7L955.2 247.8M964.1 305L970 317.8M949.8 300.8L953.9 309.5M949.2 203.7L952.9 213.1M951.7 260.7L955.5 269.8M937.1 283.2L940.4 291.7M959.9 283.6L963.1 293.5M956.7 299.7L959.7 310.7M929.9 252.4L935.1 266.3M964.8 245.2L968.9 255.6M959.2 242.1L962 250M942.4 279.9L947.4 293.6M964 306.2L967.9 315.3M959.4 292.8L961.5 299.9M931.6 270.2L936 285.6M958.7 243.9L964.6 255.1M964.3 243.7L969.3 258M940.4 235.7L945.7 246.2M952.5 297.7L955.9 304.6M963.4 269.4L970 283.1M934.9 249.2L938.9 257.6M965.5 279.7L970.4 289.5M943.3 266.5L947 276.7M937.4 238.2L940.9 246.6M953.2 265.1L955.7 274.4M968.5 276.3L973.7 287.3M956.2 288.7L962.1 299.7M941 297.3L944.5 306.8M954.8 270.1L959.4 282.8M955.4 300.6L960.6 314.8M955.1 225.9L959.9 237.1"/>
    <path class="ink" stroke-width="2.86" d="M720.6 207.2L732.4 207.2"/>
    <path class="ink" stroke-width="3.3" d="M722.2 208L722.3 300L722.3 350"/>
    <path class="ink" stroke-width="3.52" d="M729.6 208L729.4 290L728.6 305L727.4 320L727.2 350"/>
    <path class="ink" stroke-width="1.76" d="M733.5 320L733 337M738.2 325L738.3 348.5M744.8 330.6L745 354.4"/>
    <path class="ink" stroke-width="2.75" d="M733 224C735 223.2 740.5 220.3 745 219C749.5 217.7 754 216.8 760 216C766 215.2 777.5 214.8 781 214.5"/>
    <path class="ink" stroke-width="1.87" d="M741 226.4C744.2 225.7 753.5 223.2 760 222.2C766.5 221.2 776.7 220.9 780 220.6"/>
    <path class="ink" stroke-width="2.2" d="M733 230.6C736.7 230.2 747.2 228.8 755 228C762.8 227.2 775.8 226 780 225.6"/>
    <path class="ink" style="fill:#fcf9ee" stroke-width="2.75" d="M762.3 318.8C761.1 319.2 757 321.4 755 321.3C753 321.2 750.9 319.6 750 318C749.1 316.4 750.5 315.4 749.8 312C749.1 308.6 747.4 302.8 746 297.5C744.6 292.2 742.9 285.8 741.6 280C740.4 274.2 739.3 267.8 738.5 262.5C737.7 257.2 737.2 251.8 737 248C736.8 244.2 736 241.7 737.3 240C738.6 238.3 740.4 238.2 745 237.6C749.6 237 757.8 236.7 765 236.6C772.2 236.5 784.2 236.9 788 237"/>
    <path class="ink" stroke-width="2.2" d="M742.9 247C743 249.5 742.7 256.5 743.2 262C743.7 267.5 744.7 274 746 280C747.3 286 749.5 292.6 751 298C752.5 303.4 754.2 310.1 754.8 312.5"/>
    <path class="ink" stroke-width="1.98" d="M753.5 248.8L768.5 258.8M756 257.5L766 265M754 269.4L762.3 273.8M765 246L772 251M770 245.5L775 249"/>
    <path class="ink" stroke-width="1.54" d="M755.4 288.8L761.6 289M756 294.5L762 294.6M757 302L761 302.5M760 310L763 310.5M761 323L767 320M763 328L769 325"/>
    <path class="ink" stroke-width="1.87" d="M732.5 275.2L739 270.8M732.9 278.8L740 274.4M733.3 282.4L741 278M733.7 286L742 281.6M734.1 289.6L743 285.2M734.5 293.2L744 288.8M734.9 296.8L745 292.4M735.8 300.4L745.9 296M736.7 304L746.8 299.6M737.6 307.6L747.7 303.2M738.5 311.2L748.6 306.8M739.4 314.8L749.5 310.4M740.3 318.4L750.4 314"/>
    <path class="ink" stroke-width="1.87" d="M755 353C755.2 351.7 755.2 347.6 756 345C756.8 342.4 757.7 339.6 759.8 337.5C761.9 335.4 767 333.3 768.5 332.5"/>
    <path class="ink" stroke-width="1.87" d="M766 342C766.8 341.5 769.2 339.5 771 338.8C772.8 338.1 776 338.1 777 338"/>
    <path class="ink" stroke-width="1.87" d="M768.5 354.4C769.1 353.3 770.3 349.7 772 348C773.7 346.3 776.7 345.2 778.5 344.4C780.3 343.6 782.2 343.2 783 343"/>
    <path class="ink" stroke-width="1.87" d="M783.5 352C784.6 351.2 787.7 348.3 790 347C792.3 345.7 796.1 344.8 797.3 344.4"/>
    <path class="ink" stroke-width="1.87" d="M794 355C795.6 354 800 350.5 803.5 348.8C807 347.1 810.7 345.8 814.8 345C818.9 344.2 825.8 344 828 343.8"/>
    <path class="ink" stroke-width="1.87" d="M811 354.4C812.8 353.3 818.2 349.7 822 348C825.8 346.3 830.3 345 834 344C837.7 343 842.3 342.3 844 342"/>
    <path class="ink" stroke-width="1.87" d="M837.3 352.5C839.2 351.4 844.8 347.7 848.5 345.6C852.2 343.5 857.4 341.1 859.8 340C862.2 338.9 862.5 339.2 863 339"/>
    <path class="ink" stroke-width="1.87" d="M853 350C855 349 860.3 345.7 864.8 343.8C869.3 341.9 874.8 339.9 879.8 338.8C884.8 337.7 890.1 337.2 894.8 337C899.5 336.8 904.2 337 908 337.5C911.8 338 915.8 339.6 917.3 340"/>
    <path class="ink" stroke-width="1.87" d="M869 336.3C870.8 335.6 875.7 333.1 880 332C884.3 330.9 890.6 330.5 894.8 330C899 329.5 901.6 329 905 329C908.4 329 913.7 329.8 915.4 330"/>
    <path class="ink" stroke-width="1.87" d="M885.4 325C887 324.8 891.1 323.6 895 323.5C898.9 323.4 906.7 324.2 909 324.4"/>
    <path class="ink" stroke-width="2.64" d="M892.3 311.3L904.8 320L919.8 328.8L934.8 337L948.5 343"/>
    <path class="ink" stroke-width="2.2" d="M892 305.6L898 313.8L957.5 314.3L940 305L932 303.2"/>
    <path class="ink" stroke-width="2.42" d="M916 320L958 320.6L957.9 313.8"/>
    <path class="ink" stroke-width="1.98" d="M953 321.3L953.5 339.4"/>
    <path class="ink" stroke-width="1.21" d="M930 323L950 334M938 322L951 329M945 322L951 325M926 324L944 334"/>
    <path class="ink" style="fill:#fcf9ee" stroke-width="2.64" d="M896 290C896 291.3 895.8 295.8 896 298C896.2 300.2 896.2 301.5 897 303C897.8 304.5 899.2 306 901 307C902.8 308 905.8 308.6 908 309C910.2 309.4 911.8 309.5 914 309.5C916.2 309.5 918.7 309.5 921 309C923.3 308.5 926.2 307.7 928 306.5C929.8 305.3 930.8 303.8 931.5 302C932.2 300.2 932.2 298 932.3 296C932.4 294 932.3 291 932.3 290"/>
    <path class="ink" style="fill:#fcf9ee" stroke-width="2.2" d="M896 290C896.1 289 898.2 287.7 900 287C901.8 286.3 904.7 286.2 907 286C909.3 285.8 911.5 285.8 914 285.8C916.5 285.8 919.5 285.8 922 286C924.5 286.2 927.3 286.6 929 287.3C930.7 288 932.3 289.1 932.3 290C932.3 290.9 930.7 292.3 929 293C927.3 293.7 924.5 294 922 294.3C919.5 294.6 916.7 294.6 914 294.6C911.3 294.6 908.4 294.5 906 294.2C903.6 293.9 901.2 293.5 899.5 292.8C897.8 292.1 895.9 291 896 290Z"/>
    <path class="ink" stroke-width="1.65" d="M898 298C899.2 298.4 902.3 299.8 905 300.3C907.7 300.8 911 301 914 301C917 301 920.2 300.9 923 300.4C925.8 299.9 929.7 298.4 931 298"/>
    <path class="ink" stroke-width="1.65" d="M899 303C900.2 303.3 903.5 304.6 906 305C908.5 305.4 911.2 305.5 914 305.5C916.8 305.5 920.3 305.5 923 305C925.7 304.5 928.8 302.9 930 302.5"/>
    <path style="fill:#fcf9ee" d="M907 277H922.5V286H906.5Z"/>
    <path class="ink" stroke-width="1.98" d="M906.6 277L922.4 277M906.2 281.4L922.6 281.4M906 285.6L922.6 285.6M906.8 277L906.2 285.6M922.4 277L922.8 285.6"/>
    <path class="ink" style="fill:#fcf9ee" stroke-width="1.87" d="M923.5 275.8L932 277.6L931.6 281L923.5 279.6Z"/>
    <path class="ink" stroke-width="2.64" d="M907 277C906.5 276.2 905.2 274 904 272C902.8 270 900.8 267.4 899.8 265C898.8 262.6 898.1 260 898 257.5C897.9 255 898.3 252.3 899 250C899.7 247.7 901.1 246.3 902.3 243.8C903.5 241.3 905.1 238.1 906 235C906.9 231.9 907.5 228.9 907.7 225C907.9 221.1 907.1 213.8 907 211.6M907 211.3L921 210.8M921 211C921.1 213.3 921.4 221 921.6 225C921.9 229 922 232 922.5 235C923 238 923.9 240.5 924.8 243C925.7 245.5 927.3 247.7 928 250C928.7 252.3 929 254.8 929.2 257C929.4 259.2 929.5 260.6 929 263C928.5 265.4 927.1 269 926 271.3C924.9 273.6 923.1 276.1 922.5 277"/>
    <path class="ink" stroke-width="1.76" d="M914.8 244C915.3 244.5 917 245.8 918 247C919 248.2 920 249.4 920.5 251C921 252.6 920.9 255.4 921 256.3"/>
    <path class="ink" stroke-width="1.98" d="M910.5 276C910.7 274.7 911 270.2 911.5 268C912 265.8 912.9 264.1 913.5 263C914.1 261.9 914.8 261.8 915 261.5M915 276C915.1 274.3 915.2 268.2 915.5 266C915.8 263.8 916.8 263.1 917 262.5M919.8 276C919.7 274.7 919.4 270.2 919 268C918.6 265.8 917.6 263.8 917.3 263"/>
    <path class="ink" stroke-width="1.76" d="M912.5 275L913.5 267M917.5 275L917.5 266"/>
    <path style="fill:#fcf9ee" d="M796 239.5L785 243.8L777 250L772.9 256.3L767.3 270L764 285L763.6 300L766 312L769 322L771 327L774.8 332.5L782.3 338L789.8 342L799.8 342L809.8 340L822.3 335L833.5 330L848.5 327L858.5 324.4L866 332L878.5 326.3L886 317.5L890.4 307.5L890 292L888 277L880 266L875 261L872.3 258.8L866 251.3L858 245L850 238.5L830 236Z"/>
    <path class="ink" stroke-width="2.86" d="M888 270C888.3 271.7 889.3 275.8 889.8 280C890.3 284.2 891 290.4 891 295C891 299.6 890.8 303.7 890 307.5C889.2 311.3 887.9 314.9 886 318C884.1 321.1 881.8 323.9 878.5 326.3C875.2 328.7 870.4 330.8 866 332.5C861.6 334.2 857.3 335.4 852.3 336.3C847.3 337.2 838.7 337.7 836 338"/>
    <path class="ink" stroke-width="1.98" d="M886 283C885.7 284.2 885.4 287.8 884 290C882.6 292.2 880.2 294.6 877.9 296.3C875.6 298 872.6 299.1 870 300C867.4 300.9 863.6 301.7 862.3 302"/>
    <path class="ink" stroke-width="1.65" d="M888 287C887.5 288.3 886.4 292.5 884.8 295C883.2 297.5 881 300.1 878.5 302C876 303.9 871.2 305.6 869.8 306.3"/>
    <path class="ink" stroke-width="2.86" d="M796 239.5C794.2 240.2 788.2 242.1 785 243.8C781.8 245.6 779 247.9 777 250C775 252.1 774.5 253 772.9 256.3C771.3 259.6 768.8 265.2 767.3 270C765.8 274.8 764.6 280 764 285C763.4 290 763.3 295.5 763.6 300C763.9 304.5 765.1 308.3 766 312C766.9 315.7 768.2 319.5 769 322C769.8 324.5 770 325.2 771 327C772 328.8 772.9 330.7 774.8 332.5C776.7 334.3 779.8 336.4 782.3 338C784.8 339.6 786.9 341.3 789.8 342C792.7 342.7 796.5 342.3 799.8 342C803.1 341.7 806 341.2 809.8 340C813.5 338.8 818.3 336.7 822.3 335C826.2 333.3 829.9 331.2 833.5 330C837.1 328.8 842.2 328.3 844 328"/>
    <path class="ink" stroke-width="2.64" d="M771 325.8C771.8 324.7 773.7 321.2 776 319.4C778.3 317.6 780.8 316 784.8 315C788.8 314 794.2 313.9 800 313.6C805.8 313.3 814.4 313.6 819.8 313C825.2 312.4 828.3 311.4 832.3 310C836.3 308.6 842 305.3 844 304.4"/>
    <path class="ink" stroke-width="2.09" d="M784 262C785 263.7 788 268.6 789.8 272C791.6 275.4 793.5 279.2 794.8 282.5C796.1 285.8 797.3 290.4 797.8 292"/>
    <path class="ink" stroke-width="2.2" d="M794.8 263.8C795.2 265.7 796.5 270.6 797 275C797.5 279.4 797.9 284.2 798 290C798.1 295.8 797.5 306.7 797.4 310"/>
    <path class="ink" stroke-width="1.54" d="M781.6 275C782.3 276 784.5 278.8 786 281C787.5 283.2 789.7 286.8 790.4 288"/>
    <path class="ink" stroke-width="1.76" d="M770.4 300C772 300.1 776.2 300 780 300.5C783.8 301 790.8 302.8 793 303.2"/>
    <path class="ink" stroke-width="1.76" d="M777.3 306C778.8 306.2 783.1 306.8 786 307.5C788.9 308.2 793 309.6 794.4 310"/>
    <path class="ink" stroke-width="2.42" d="M799.8 245C800.6 246.3 802.3 249.9 804.8 253C807.3 256.1 811.5 260.6 814.8 263.8C818.1 267 822 269.9 824.8 272C827.6 274.1 830.5 275.7 831.6 276.4"/>
    <path class="ink" stroke-width="2.42" d="M838 251.3C837.8 253.1 837.3 258.6 836.6 262C835.9 265.4 834.9 269.5 834 272C833.1 274.5 831.9 276.2 831.5 277"/>
    <path class="ink" stroke-width="1.76" d="M800.4 263C801.8 264.3 805.9 268.1 808.5 270.6C811.1 273.1 813.9 276.1 816 278C818.1 279.9 820.2 281.6 821 282.3"/>
    <path class="ink" stroke-width="1.87" d="M814.8 247C815.7 247.5 818.1 249.3 820 250C821.9 250.7 825 251.1 826 251.3"/>
    <path class="ink" stroke-width="1.87" d="M818 253C818.7 253.3 820.7 254.8 822 255C823.3 255.2 825.3 254.5 826 254.4"/>
    <path class="ink" stroke-width="2.86" d="M850 238.3C851.3 239.4 855.3 242.8 858 245C860.7 247.2 863.6 249 866 251.3C868.4 253.6 870.8 257.2 872.3 258.8C873.8 260.4 874.5 260.6 875 261"/>
    <path class="ink" stroke-width="1.65" d="M851 253.8C851.5 255.2 853.1 259.3 854 262C854.9 264.7 856.2 268.7 856.6 270"/>
    <path class="ink" stroke-width="1.65" d="M856 255L857.3 265"/>
    <path class="ink" stroke-width="2.09" d="M798.5 303.8C800.2 303.3 805 301.6 808.5 300.6C812 299.6 816.5 298.9 819.8 298C823.1 297.1 825.8 296.1 828.5 295C831.2 293.9 833.2 292.1 836 291.3C838.8 290.5 843.5 290.5 845 290.4"/>
    <path class="ink" stroke-width="1.87" d="M799.8 308C801.8 307.3 807 304.9 812 304C817 303.1 825.1 302.5 829.8 302.5C834.5 302.5 838.3 303.8 840 304"/>
    <path class="ink" style="fill:#fcf9ee" stroke-width="2.64" d="M836 307C837.5 306.2 841.6 303.4 844.8 302.5C848 301.6 851.8 301.5 855 301.5C858.2 301.5 861.8 301.7 864 302.5C866.2 303.3 867.6 304.6 868.5 306.3C869.4 308 869.6 310.4 869.5 312.5C869.4 314.6 869.2 317.1 868 319C866.8 320.9 864.9 322.5 862.3 323.8C859.7 325.1 856 326.2 852.3 327C848.6 327.8 842.7 328.2 840 328.5C837.3 328.8 836.7 328.9 836 329"/>
    <path class="ink" stroke-width="2.2" d="M856 307L866 303.4M856.6 313L868 309.4M857.3 319.4L868 315"/>
    <path class="ink" stroke-width="1.98" d="M839 295.3C839.7 295.5 841.3 296.4 843 296.5C844.7 296.6 848 295.8 849 295.6"/>
    <path class="ink" style="fill:#fcf9ee" stroke-width="2.2" d="M838.5 276C839.2 275 839.9 273.3 841 272.6C842.1 271.9 843.8 271.7 845 271.8C846.2 271.9 847.5 272.7 848.5 273.5C849.5 274.3 850.4 275.2 851 276.5C851.6 277.8 852.2 279.5 852.3 281C852.3 282.5 851.9 284.2 851.3 285.5C850.7 286.8 849.6 288.1 848.5 288.6C847.4 289.1 845.6 288.8 844.5 288.4C843.4 288 843 286.5 842 286C841 285.5 839.7 286.2 838.8 285.6C837.9 285 837.1 283.6 836.8 282.5C836.5 281.4 836.5 279.9 836.8 278.8C837.1 277.7 837.8 277 838.5 276Z"/>
    <path class="ink" stroke-width="1.65" d="M842.5 274.5C842.8 275 844.2 276.4 844.5 277.5C844.8 278.6 843.8 279.9 844 281C844.2 282.1 845.4 283 845.5 284C845.6 285 844.7 286.5 844.5 287M846.5 274.5C846.8 275.1 848.4 276.8 848.5 278C848.6 279.2 847.1 280.4 847.3 281.5C847.5 282.6 849.1 284 849.5 284.5M844 279C844.5 279.2 845.9 280.4 847 280.5C848.1 280.6 849.9 279.7 850.5 279.5M845.5 283C845.9 283.5 847.2 285.8 848 286C848.8 286.2 850.1 284.3 850.5 284"/>
    <path class="ink" stroke-width="2.42" d="M842 286.5C842.5 287 843.8 288.9 845 289.5C846.2 290.1 848.8 289.9 849.5 290"/>
    <path class="ink" style="fill:#fcf9ee" stroke-width="2.97" d="M856 283C855.4 280.8 854.5 277.5 854.8 275C855.1 272.5 856.5 269.8 858 268C859.5 266.2 861.6 265.3 864 264.5C866.4 263.7 869.6 262.8 872.3 263C875 263.2 877.7 264.1 880 265.5C882.3 266.9 884.7 269.4 886 271.3C887.3 273.2 888.3 274.9 888 277C887.7 279.1 886 281.7 884 283.8C882 285.9 879 288.1 876 289.4C873 290.7 868.9 291.7 866 291.5C863.1 291.3 860.2 289.4 858.5 288C856.8 286.6 856.6 285.2 856 283Z"/>
    <path class="ink" stroke-width="1.65" d="M863.3 279C863 279.2 861.6 279.8 861.3 280.5C861 281.2 861.2 282.5 861.6 283C862 283.5 863.3 283.5 863.6 283.6"/>
    <circle class="blk" stroke="none" cx="869.8" cy="280.6" r="1.2"/>
    <path style="fill:#fcf9ee" d="M810 222L809.8 235L814.8 242L822.3 246.3L832.3 248.3L838 247.6L842.3 245L847.9 237.5L852.9 227.5L855.4 215L854.8 202.5L851 190L844.8 181.3L836 177L820 190Z"/>
    <path class="ink" stroke-width="2.75" d="M808 226C808.3 227.5 808.7 232.3 809.8 235C810.9 237.7 812.7 240.1 814.8 242C816.9 243.9 819.4 245.2 822.3 246.3C825.2 247.4 829.7 248.1 832.3 248.3C834.9 248.5 836.3 248.2 838 247.6C839.7 247 840.6 246.7 842.3 245C843.9 243.3 846.1 240.4 847.9 237.5C849.7 234.6 851.6 231.2 852.9 227.5C854.1 223.8 855.1 219.2 855.4 215C855.7 210.8 855.5 206.7 854.8 202.5C854.1 198.3 852.7 193.5 851 190C849.3 186.5 847.3 183.6 844.8 181.3C842.3 179.1 837.5 177.3 836 176.5"/>
    <path class="ink" stroke-width="1.98" d="M797.9 242C798.1 242.8 798.5 245.5 799 247C799.5 248.5 800.7 250.3 801 251"/>
    <path class="ink blk" stroke-width="2.2" d="M806 222C804.3 220.3 802.3 216.8 801 214C799.7 211.2 798.2 208.2 798 205C797.8 201.8 798.5 198.1 799.8 195C801.1 191.9 803.5 189 806 186.3C808.5 183.6 811.5 180.6 814.8 178.8C818.1 177 822.5 175.8 826 175.4C829.5 175 833.2 175.4 836 176.3C838.8 177.2 841.5 179.2 843 181C844.5 182.8 845 185.2 845.2 187C845.5 188.8 845 190.4 844.5 192C844 193.6 843.9 194.6 842.3 196.3C840.7 198 837.7 200.1 835 202C832.3 203.9 828.8 206.2 826 208C823.2 209.8 820.1 211.2 818 213C815.9 214.8 814.7 217 813.5 218.8C812.3 220.6 812.2 223.5 811 224C809.8 224.5 807.7 223.7 806 222Z"/>
    <path class="ink blk" stroke-width="2.2" d="M800 207C797.8 206.3 794.3 207.2 792 208C789.7 208.8 787.6 210.2 786 212C784.4 213.8 783 216.5 782.3 219C781.6 221.5 781.5 224.5 782 227C782.5 229.5 783.5 232.2 785 234C786.5 235.8 788.8 237.2 791 238C793.2 238.8 795.8 239 798 238.5C800.2 238 802.5 236.8 804 235C805.5 233.2 806.4 230.5 807 228C807.6 225.5 807.8 222.7 807.5 220C807.2 217.3 806.2 214.2 805 212C803.8 209.8 802.2 207.7 800 207Z"/>
    <path fill="none" stroke="#fcf9ee" stroke-width="1.05" stroke-linecap="round" opacity=".8" d="M803 203C803.7 201.3 805 196 807 193C809 190 812.2 187.1 815 185C817.8 182.9 822.5 181.2 824 180.5M806 206C806.8 204.3 808.7 199 811 196C813.3 193 816.8 190.1 820 188C823.2 185.9 828.3 184.2 830 183.5M809 209C810 207.3 812.3 201.9 815 199C817.7 196.1 821.5 193.3 825 191.5C828.5 189.7 834.2 188.6 836 188M813 211C814.2 209.5 817.2 204.6 820 202C822.8 199.4 826.7 197.2 830 195.5C833.3 193.8 838.3 192.6 840 192M817 213C818.3 211.8 822.2 207.7 825 205.5C827.8 203.3 831.3 201.4 834 200C836.7 198.6 839.8 197.5 841 197M802 198C802.5 196.8 803.5 193.3 805 191C806.5 188.7 810 185.2 811 184M822 183C823.3 182.4 827.3 179.9 830 179.5C832.7 179.1 836.7 180.3 838 180.5M812 205C813 203.7 815.5 199.3 818 197C820.5 194.7 825.5 192 827 191M786 217C786.2 218.3 786.2 222.3 787 225C787.8 227.7 790.3 231.7 791 233M790 213C790.2 214.5 790.6 218.9 791.5 222C792.4 225.1 794.8 229.9 795.5 231.5M794.5 211C794.8 212.5 795.5 216.8 796.5 220C797.5 223.2 799.8 228.3 800.5 230M799 211C799.4 212.3 800.7 216.3 801.5 219C802.3 221.7 803.6 225.7 804 227M784.5 222C784.8 223.2 785.2 226.9 786 229C786.8 231.1 788.5 233.6 789 234.5"/>
    <ellipse cx="806.8" cy="222.3" rx="1.3" ry="2.2" fill="#fcf9ee"/>
    <path class="ink" stroke-width="1.98" d="M824.6 212.6C825.6 212.2 828.2 210.3 830.4 210.2C832.6 210.1 836.7 211.9 838 212.2"/>
    <path class="ink" stroke-width="1.98" d="M843 213C843.8 212.9 846.5 212.3 848 212.4C849.5 212.5 851.6 213.6 852.3 213.8"/>
    <path class="ink" stroke-width="2.09" d="M824.8 219.8C825.5 220.2 827.5 222.1 829 222.3C830.5 222.6 833.2 221.5 834 221.3"/>
    <path class="ink" stroke-width="1.98" d="M846 220.6C846.5 220.8 848 221.9 849 222C850 222.1 851.3 221.3 851.8 221.2"/>
    <path class="ink" stroke-width="2.09" d="M841.6 215C841.8 215.8 842.7 218.3 843 220C843.3 221.7 843.5 223.2 843.5 225C843.5 226.8 843.6 229.6 842.9 231C842.2 232.4 840.6 233.3 839.5 233.4C838.4 233.5 836.6 231.7 836 231.4"/>
    <path class="ink" stroke-width="2.53" d="M831 238C831.7 238.1 833.9 238.2 835.4 238.6C836.9 239 839.1 240.3 839.8 240.6"/>
    <path class="ink" stroke-width="2.2" d="M832.6 242.6L834.5 243"/>
    <path class="ink" style="fill:#3a3a3a" stroke-width="1.76" d="M856 230.4C856.6 230.5 858 231 858.4 231.8C858.8 232.6 858.8 234.3 858.4 235C858 235.7 856.6 236.2 855.8 236C855 235.8 854 234.6 853.8 233.8C853.6 233 854.4 231.6 854.8 231C855.2 230.4 855.4 230.3 856 230.4Z"/>
  </g>

  <!-- LABELS -->
  <g id="labels" filter="url(#rought)">
    <text transform="translate(12.0 364.1) scale(0.980 1)">PRETERM</text>
    <text transform="translate(-46.7 402.5) scale(0.966 1)">COMPLICATIONS</text>
    <text transform="translate(293.4 364.1) scale(1.009 1)">BIRTH</text>
    <text transform="translate(261.3 402.5) scale(0.951 1)">ASPHYXIA</text>
    <text transform="translate(488.5 364.1) scale(0.951 1)">PNEUMONIA</text>
    <text transform="translate(725.7 394.4) scale(0.937 1)">UNSAFE</text>
    <text transform="translate(866.7 394.4) scale(0.930 1)">HOME</text>
    <text transform="translate(763.0 433.3) scale(0.967 1)">BIRTHING</text>
    <text transform="translate(752.6 472.4) scale(0.947 1)">PRACTICES</text>
  </g>

  <!-- TIMELINE -->
  <g id="timeline" class="ink" filter="url(#rough)">
    <path d="M-4 512.4 H973.5" stroke="#2a2a2a" stroke-width="5"/>
    <path d="M92 436 V512" stroke-width="2.2"/>
    <path d="M350.5 436 V512" stroke-width="2.2"/>
    <path d="M593.5 436 V512" stroke-width="2.2"/>
    <path d="M845.5 485 V512" stroke-width="2.2"/>
    <g class="blk" stroke="none">
      <ellipse cx="92" cy="513.2" rx="3.9" ry="5.4"/>
      <ellipse cx="350.5" cy="513.2" rx="3.9" ry="5.4"/>
      <ellipse cx="593.5" cy="513.2" rx="3.9" ry="5.4"/>
      <ellipse cx="845.5" cy="513.2" rx="3.9" ry="5.4"/>
    </g>
  </g>
  <g id="days" filter="url(#rought)">
    <text transform="translate(81.6 563) scale(1.051 1)">7</text>
    <text transform="translate(332.6 563) scale(1.046 1)">14</text>
    <text transform="translate(577.1 563) scale(1.009 1)">21</text>
    <text transform="translate(826.6 563) scale(1.133 1)">28</text>
  </g>
</svg>
</body>
</html>
